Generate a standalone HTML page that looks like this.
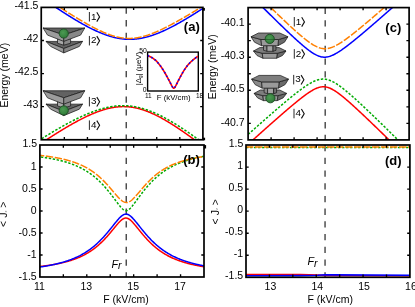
<!DOCTYPE html>
<html><head><meta charset="utf-8"><title>figure</title>
<style>html,body{margin:0;padding:0;background:#fff;}body{width:415px;height:307px;overflow:hidden;position:relative;font-family:"Liberation Sans",sans-serif;}</style>
</head><body>
<svg width="415" height="307" viewBox="0 0 415 307" style="position:absolute;left:0;top:0;will-change:transform;opacity:0.9999" font-family="Liberation Sans, sans-serif" font-size="10.5">
<defs>
<clipPath id="ca"><rect x="41.25" y="7.4" width="161.65" height="132.35"/></clipPath>
<clipPath id="cb"><rect x="39.9" y="145.0" width="164.10" height="132.00"/></clipPath>
<clipPath id="cc"><rect x="248.1" y="7.6" width="161.00" height="132.30"/></clipPath>
<clipPath id="cd"><rect x="246.0" y="145.0" width="163.90" height="132.30"/></clipPath>
<radialGradient id="sg" cx="0.42" cy="0.4" r="0.65"><stop offset="0" stop-color="#4c9a53"/><stop offset="1" stop-color="#2e7a37"/></radialGradient>
</defs>
<rect width="415" height="307" fill="#fff"/>
<path d="M126.25,7.40V13.70 M126.25,20.12V26.42 M126.25,32.84V39.14 M126.25,45.56V51.86 M126.25,58.28V64.58 M126.25,71.00V77.30 M126.25,83.72V90.02 M126.25,96.44V102.74 M126.25,109.16V115.46 M126.25,121.88V128.18 M126.25,134.60V139.75 " stroke="#444" stroke-width="1.4" fill="none"/>
<path d="M38.25,-4.69 L38.75,-4.34 L39.25,-3.98 L39.75,-3.63 L40.25,-3.28 L40.75,-2.93 L41.25,-2.58 L41.75,-2.23 L42.25,-1.88 L42.75,-1.54 L43.25,-1.19 L43.75,-0.84 L44.25,-0.49 L44.75,-0.15 L45.25,0.20 L45.75,0.54 L46.25,0.89 L46.75,1.23 L47.25,1.58 L47.75,1.92 L48.25,2.26 L48.75,2.61 L49.25,2.95 L49.75,3.29 L50.25,3.63 L50.75,3.97 L51.25,4.31 L51.75,4.65 L52.25,4.99 L52.75,5.33 L53.25,5.66 L53.75,6.00 L54.25,6.34 L54.75,6.67 L55.25,7.01 L55.75,7.34 L56.25,7.67 L56.75,8.01 L57.25,8.34 L57.75,8.67 L58.25,9.00 L58.75,9.33 L59.25,9.66 L59.75,9.99 L60.25,10.32 L60.75,10.64 L61.25,10.97 L61.75,11.29 L62.25,11.62 L62.75,11.94 L63.25,12.27 L63.75,12.59 L64.25,12.91 L64.75,13.23 L65.25,13.55 L65.75,13.87 L66.25,14.19 L66.75,14.50 L67.25,14.82 L67.75,15.14 L68.25,15.45 L68.75,15.76 L69.25,16.08 L69.75,16.39 L70.25,16.70 L70.75,17.01 L71.25,17.31 L71.75,17.62 L72.25,17.93 L72.75,18.23 L73.25,18.54 L73.75,18.84 L74.25,19.14 L74.75,19.44 L75.25,19.74 L75.75,20.04 L76.25,20.34 L76.75,20.63 L77.25,20.93 L77.75,21.22 L78.25,21.51 L78.75,21.80 L79.25,22.09 L79.75,22.38 L80.25,22.67 L80.75,22.95 L81.25,23.24 L81.75,23.52 L82.25,23.80 L82.75,24.08 L83.25,24.36 L83.75,24.63 L84.25,24.91 L84.75,25.18 L85.25,25.45 L85.75,25.72 L86.25,25.99 L86.75,26.26 L87.25,26.52 L87.75,26.79 L88.25,27.05 L88.75,27.31 L89.25,27.57 L89.75,27.82 L90.25,28.08 L90.75,28.33 L91.25,28.58 L91.75,28.83 L92.25,29.07 L92.75,29.32 L93.25,29.56 L93.75,29.80 L94.25,30.04 L94.75,30.27 L95.25,30.51 L95.75,30.74 L96.25,30.97 L96.75,31.19 L97.25,31.42 L97.75,31.64 L98.25,31.86 L98.75,32.08 L99.25,32.29 L99.75,32.51 L100.25,32.72 L100.75,32.92 L101.25,33.13 L101.75,33.33 L102.25,33.53 L102.75,33.72 L103.25,33.92 L103.75,34.11 L104.25,34.30 L104.75,34.48 L105.25,34.67 L105.75,34.84 L106.25,35.02 L106.75,35.19 L107.25,35.37 L107.75,35.53 L108.25,35.70 L108.75,35.86 L109.25,36.02 L109.75,36.17 L110.25,36.32 L110.75,36.47 L111.25,36.61 L111.75,36.76 L112.25,36.89 L112.75,37.03 L113.25,37.16 L113.75,37.29 L114.25,37.41 L114.75,37.53 L115.25,37.65 L115.75,37.76 L116.25,37.87 L116.75,37.97 L117.25,38.07 L117.75,38.17 L118.25,38.27 L118.75,38.36 L119.25,38.44 L119.75,38.53 L120.25,38.60 L120.75,38.68 L121.25,38.75 L121.75,38.82 L122.25,38.88 L122.75,38.94 L123.25,38.99 L123.75,39.04 L124.25,39.09 L124.75,39.13 L125.25,39.17 L125.75,39.21 L126.25,39.24 L126.75,39.26 L127.25,39.28 L127.75,39.30 L128.25,39.32 L128.75,39.33 L129.25,39.33 L129.75,39.33 L130.25,39.33 L130.75,39.32 L131.25,39.31 L131.75,39.30 L132.25,39.28 L132.75,39.25 L133.25,39.23 L133.75,39.20 L134.25,39.16 L134.75,39.12 L135.25,39.08 L135.75,39.03 L136.25,38.98 L136.75,38.92 L137.25,38.86 L137.75,38.80 L138.25,38.73 L138.75,38.66 L139.25,38.58 L139.75,38.50 L140.25,38.42 L140.75,38.33 L141.25,38.24 L141.75,38.15 L142.25,38.05 L142.75,37.95 L143.25,37.84 L143.75,37.73 L144.25,37.62 L144.75,37.50 L145.25,37.38 L145.75,37.26 L146.25,37.13 L146.75,37.00 L147.25,36.87 L147.75,36.73 L148.25,36.59 L148.75,36.44 L149.25,36.30 L149.75,36.14 L150.25,35.99 L150.75,35.83 L151.25,35.67 L151.75,35.51 L152.25,35.35 L152.75,35.18 L153.25,35.00 L153.75,34.83 L154.25,34.65 L154.75,34.47 L155.25,34.29 L155.75,34.10 L156.25,33.91 L156.75,33.72 L157.25,33.52 L157.75,33.33 L158.25,33.13 L158.75,32.93 L159.25,32.72 L159.75,32.51 L160.25,32.30 L160.75,32.09 L161.25,31.88 L161.75,31.66 L162.25,31.44 L162.75,31.22 L163.25,31.00 L163.75,30.77 L164.25,30.54 L164.75,30.31 L165.25,30.08 L165.75,29.84 L166.25,29.61 L166.75,29.37 L167.25,29.13 L167.75,28.89 L168.25,28.64 L168.75,28.39 L169.25,28.15 L169.75,27.90 L170.25,27.64 L170.75,27.39 L171.25,27.14 L171.75,26.88 L172.25,26.62 L172.75,26.36 L173.25,26.10 L173.75,25.83 L174.25,25.57 L174.75,25.30 L175.25,25.03 L175.75,24.76 L176.25,24.49 L176.75,24.22 L177.25,23.94 L177.75,23.67 L178.25,23.39 L178.75,23.11 L179.25,22.83 L179.75,22.55 L180.25,22.27 L180.75,21.98 L181.25,21.70 L181.75,21.41 L182.25,21.12 L182.75,20.83 L183.25,20.54 L183.75,20.25 L184.25,19.96 L184.75,19.67 L185.25,19.37 L185.75,19.08 L186.25,18.78 L186.75,18.48 L187.25,18.18 L187.75,17.88 L188.25,17.58 L188.75,17.28 L189.25,16.97 L189.75,16.67 L190.25,16.37 L190.75,16.06 L191.25,15.75 L191.75,15.44 L192.25,15.13 L192.75,14.82 L193.25,14.51 L193.75,14.20 L194.25,13.89 L194.75,13.58 L195.25,13.26 L195.75,12.95 L196.25,12.63 L196.75,12.32 L197.25,12.00 L197.75,11.68 L198.25,11.36 L198.75,11.04 L199.25,10.72 L199.75,10.40 L200.25,10.08 L200.75,9.76 L201.25,9.43 L201.75,9.11 L202.25,8.78 L202.75,8.46 L203.25,8.13 L203.75,7.81 L204.25,7.48 L204.75,7.15 L205.25,6.82 L205.75,6.49" fill="none" stroke="#0000ff" stroke-width="1.5" clip-path="url(#ca)" stroke-linejoin="round"/>
<path d="M38.25,-6.92 L38.75,-6.58 L39.25,-6.25 L39.75,-5.91 L40.25,-5.57 L40.75,-5.24 L41.25,-4.90 L41.75,-4.57 L42.25,-4.23 L42.75,-3.90 L43.25,-3.56 L43.75,-3.23 L44.25,-2.90 L44.75,-2.56 L45.25,-2.23 L45.75,-1.90 L46.25,-1.56 L46.75,-1.23 L47.25,-0.90 L47.75,-0.57 L48.25,-0.24 L48.75,0.09 L49.25,0.43 L49.75,0.76 L50.25,1.09 L50.75,1.42 L51.25,1.75 L51.75,2.07 L52.25,2.40 L52.75,2.73 L53.25,3.06 L53.75,3.39 L54.25,3.72 L54.75,4.04 L55.25,4.37 L55.75,4.70 L56.25,5.02 L56.75,5.35 L57.25,5.67 L57.75,6.00 L58.25,6.32 L58.75,6.65 L59.25,6.97 L59.75,7.29 L60.25,7.62 L60.75,7.94 L61.25,8.26 L61.75,8.58 L62.25,8.90 L62.75,9.22 L63.25,9.54 L63.75,9.86 L64.25,10.18 L64.75,10.50 L65.25,10.82 L65.75,11.14 L66.25,11.45 L66.75,11.77 L67.25,12.08 L67.75,12.40 L68.25,12.71 L68.75,13.03 L69.25,13.34 L69.75,13.65 L70.25,13.97 L70.75,14.28 L71.25,14.59 L71.75,14.90 L72.25,15.21 L72.75,15.52 L73.25,15.82 L73.75,16.13 L74.25,16.44 L74.75,16.74 L75.25,17.05 L75.75,17.35 L76.25,17.65 L76.75,17.96 L77.25,18.26 L77.75,18.56 L78.25,18.86 L78.75,19.16 L79.25,19.46 L79.75,19.75 L80.25,20.05 L80.75,20.34 L81.25,20.64 L81.75,20.93 L82.25,21.22 L82.75,21.52 L83.25,21.81 L83.75,22.09 L84.25,22.38 L84.75,22.67 L85.25,22.95 L85.75,23.24 L86.25,23.52 L86.75,23.80 L87.25,24.08 L87.75,24.36 L88.25,24.64 L88.75,24.92 L89.25,25.19 L89.75,25.46 L90.25,25.74 L90.75,26.01 L91.25,26.28 L91.75,26.54 L92.25,26.81 L92.75,27.07 L93.25,27.34 L93.75,27.60 L94.25,27.86 L94.75,28.11 L95.25,28.37 L95.75,28.62 L96.25,28.87 L96.75,29.12 L97.25,29.37 L97.75,29.62 L98.25,29.86 L98.75,30.10 L99.25,30.34 L99.75,30.58 L100.25,30.81 L100.75,31.04 L101.25,31.27 L101.75,31.50 L102.25,31.72 L102.75,31.95 L103.25,32.16 L103.75,32.38 L104.25,32.60 L104.75,32.81 L105.25,33.02 L105.75,33.22 L106.25,33.42 L106.75,33.62 L107.25,33.82 L107.75,34.01 L108.25,34.20 L108.75,34.39 L109.25,34.57 L109.75,34.75 L110.25,34.93 L110.75,35.10 L111.25,35.27 L111.75,35.44 L112.25,35.60 L112.75,35.76 L113.25,35.91 L113.75,36.06 L114.25,36.20 L114.75,36.35 L115.25,36.48 L115.75,36.62 L116.25,36.75 L116.75,36.87 L117.25,36.99 L117.75,37.11 L118.25,37.22 L118.75,37.33 L119.25,37.43 L119.75,37.53 L120.25,37.62 L120.75,37.71 L121.25,37.79 L121.75,37.87 L122.25,37.94 L122.75,38.01 L123.25,38.07 L123.75,38.13 L124.25,38.18 L124.75,38.23 L125.25,38.28 L125.75,38.31 L126.25,38.35 L126.75,38.37 L127.25,38.40 L127.75,38.41 L128.25,38.42 L128.75,38.43 L129.25,38.43 L129.75,38.43 L130.25,38.42 L130.75,38.41 L131.25,38.39 L131.75,38.36 L132.25,38.33 L132.75,38.30 L133.25,38.26 L133.75,38.21 L134.25,38.16 L134.75,38.11 L135.25,38.05 L135.75,37.98 L136.25,37.91 L136.75,37.84 L137.25,37.76 L137.75,37.68 L138.25,37.59 L138.75,37.50 L139.25,37.40 L139.75,37.30 L140.25,37.19 L140.75,37.08 L141.25,36.97 L141.75,36.85 L142.25,36.72 L142.75,36.60 L143.25,36.46 L143.75,36.33 L144.25,36.19 L144.75,36.05 L145.25,35.90 L145.75,35.75 L146.25,35.60 L146.75,35.44 L147.25,35.28 L147.75,35.11 L148.25,34.95 L148.75,34.77 L149.25,34.60 L149.75,34.42 L150.25,34.24 L150.75,34.06 L151.25,33.87 L151.75,33.68 L152.25,33.49 L152.75,33.29 L153.25,33.10 L153.75,32.90 L154.25,32.69 L154.75,32.49 L155.25,32.28 L155.75,32.07 L156.25,31.85 L156.75,31.64 L157.25,31.42 L157.75,31.20 L158.25,30.98 L158.75,30.75 L159.25,30.53 L159.75,30.30 L160.25,30.07 L160.75,29.84 L161.25,29.60 L161.75,29.37 L162.25,29.13 L162.75,28.89 L163.25,28.65 L163.75,28.40 L164.25,28.16 L164.75,27.91 L165.25,27.66 L165.75,27.41 L166.25,27.16 L166.75,26.91 L167.25,26.66 L167.75,26.40 L168.25,26.14 L168.75,25.88 L169.25,25.62 L169.75,25.36 L170.25,25.10 L170.75,24.84 L171.25,24.57 L171.75,24.30 L172.25,24.04 L172.75,23.77 L173.25,23.50 L173.75,23.23 L174.25,22.96 L174.75,22.68 L175.25,22.41 L175.75,22.14 L176.25,21.86 L176.75,21.58 L177.25,21.30 L177.75,21.03 L178.25,20.75 L178.75,20.47 L179.25,20.18 L179.75,19.90 L180.25,19.62 L180.75,19.33 L181.25,19.05 L181.75,18.76 L182.25,18.48 L182.75,18.19 L183.25,17.90 L183.75,17.61 L184.25,17.32 L184.75,17.03 L185.25,16.74 L185.75,16.45 L186.25,16.16 L186.75,15.87 L187.25,15.57 L187.75,15.28 L188.25,14.99 L188.75,14.69 L189.25,14.39 L189.75,14.10 L190.25,13.80 L190.75,13.50 L191.25,13.21 L191.75,12.91 L192.25,12.61 L192.75,12.31 L193.25,12.01 L193.75,11.71 L194.25,11.41 L194.75,11.10 L195.25,10.80 L195.75,10.50 L196.25,10.20 L196.75,9.89 L197.25,9.59 L197.75,9.29 L198.25,8.98 L198.75,8.68 L199.25,8.37 L199.75,8.06 L200.25,7.76 L200.75,7.45 L201.25,7.14 L201.75,6.84 L202.25,6.53 L202.75,6.22 L203.25,5.91 L203.75,5.60 L204.25,5.29 L204.75,4.98 L205.25,4.67 L205.75,4.36" fill="none" stroke="#ff8000" stroke-width="1.5" stroke-dasharray="7.4 1.6" stroke-dashoffset="0" clip-path="url(#ca)" stroke-linejoin="round"/>
<path d="M38.25,145.23 L38.75,144.90 L39.25,144.56 L39.75,144.23 L40.25,143.90 L40.75,143.56 L41.25,143.23 L41.75,142.90 L42.25,142.57 L42.75,142.24 L43.25,141.91 L43.75,141.58 L44.25,141.25 L44.75,140.92 L45.25,140.59 L45.75,140.26 L46.25,139.94 L46.75,139.61 L47.25,139.29 L47.75,138.96 L48.25,138.64 L48.75,138.31 L49.25,137.99 L49.75,137.67 L50.25,137.34 L50.75,137.02 L51.25,136.70 L51.75,136.38 L52.25,136.06 L52.75,135.74 L53.25,135.43 L53.75,135.11 L54.25,134.79 L54.75,134.48 L55.25,134.16 L55.75,133.85 L56.25,133.53 L56.75,133.22 L57.25,132.91 L57.75,132.60 L58.25,132.29 L58.75,131.98 L59.25,131.67 L59.75,131.36 L60.25,131.05 L60.75,130.75 L61.25,130.44 L61.75,130.14 L62.25,129.83 L62.75,129.53 L63.25,129.23 L63.75,128.93 L64.25,128.63 L64.75,128.33 L65.25,128.03 L65.75,127.73 L66.25,127.44 L66.75,127.14 L67.25,126.85 L67.75,126.56 L68.25,126.26 L68.75,125.97 L69.25,125.68 L69.75,125.40 L70.25,125.11 L70.75,124.82 L71.25,124.54 L71.75,124.25 L72.25,123.97 L72.75,123.69 L73.25,123.41 L73.75,123.13 L74.25,122.85 L74.75,122.58 L75.25,122.30 L75.75,122.03 L76.25,121.76 L76.75,121.49 L77.25,121.22 L77.75,120.95 L78.25,120.68 L78.75,120.42 L79.25,120.16 L79.75,119.89 L80.25,119.63 L80.75,119.38 L81.25,119.12 L81.75,118.86 L82.25,118.61 L82.75,118.36 L83.25,118.11 L83.75,117.86 L84.25,117.61 L84.75,117.37 L85.25,117.13 L85.75,116.88 L86.25,116.65 L86.75,116.41 L87.25,116.17 L87.75,115.94 L88.25,115.71 L88.75,115.48 L89.25,115.25 L89.75,115.03 L90.25,114.80 L90.75,114.58 L91.25,114.36 L91.75,114.15 L92.25,113.93 L92.75,113.72 L93.25,113.51 L93.75,113.30 L94.25,113.10 L94.75,112.90 L95.25,112.70 L95.75,112.50 L96.25,112.31 L96.75,112.11 L97.25,111.92 L97.75,111.74 L98.25,111.55 L98.75,111.37 L99.25,111.19 L99.75,111.02 L100.25,110.84 L100.75,110.67 L101.25,110.51 L101.75,110.34 L102.25,110.18 L102.75,110.02 L103.25,109.87 L103.75,109.72 L104.25,109.57 L104.75,109.42 L105.25,109.28 L105.75,109.14 L106.25,109.00 L106.75,108.87 L107.25,108.74 L107.75,108.62 L108.25,108.50 L108.75,108.38 L109.25,108.26 L109.75,108.15 L110.25,108.04 L110.75,107.94 L111.25,107.84 L111.75,107.74 L112.25,107.65 L112.75,107.56 L113.25,107.47 L113.75,107.39 L114.25,107.31 L114.75,107.24 L115.25,107.17 L115.75,107.10 L116.25,107.04 L116.75,106.98 L117.25,106.93 L117.75,106.88 L118.25,106.84 L118.75,106.79 L119.25,106.76 L119.75,106.72 L120.25,106.70 L120.75,106.67 L121.25,106.65 L121.75,106.63 L122.25,106.62 L122.75,106.61 L123.25,106.61 L123.75,106.61 L124.25,106.62 L124.75,106.63 L125.25,106.64 L125.75,106.66 L126.25,106.68 L126.75,106.71 L127.25,106.74 L127.75,106.77 L128.25,106.81 L128.75,106.86 L129.25,106.91 L129.75,106.96 L130.25,107.02 L130.75,107.08 L131.25,107.14 L131.75,107.21 L132.25,107.29 L132.75,107.37 L133.25,107.45 L133.75,107.54 L134.25,107.63 L134.75,107.72 L135.25,107.82 L135.75,107.92 L136.25,108.03 L136.75,108.14 L137.25,108.26 L137.75,108.38 L138.25,108.50 L138.75,108.63 L139.25,108.76 L139.75,108.90 L140.25,109.04 L140.75,109.18 L141.25,109.33 L141.75,109.48 L142.25,109.64 L142.75,109.80 L143.25,109.96 L143.75,110.12 L144.25,110.29 L144.75,110.47 L145.25,110.65 L145.75,110.83 L146.25,111.01 L146.75,111.20 L147.25,111.39 L147.75,111.58 L148.25,111.78 L148.75,111.98 L149.25,112.18 L149.75,112.39 L150.25,112.60 L150.75,112.82 L151.25,113.03 L151.75,113.25 L152.25,113.48 L152.75,113.70 L153.25,113.93 L153.75,114.16 L154.25,114.40 L154.75,114.64 L155.25,114.88 L155.75,115.12 L156.25,115.36 L156.75,115.61 L157.25,115.86 L157.75,116.12 L158.25,116.37 L158.75,116.63 L159.25,116.89 L159.75,117.16 L160.25,117.42 L160.75,117.69 L161.25,117.96 L161.75,118.24 L162.25,118.51 L162.75,118.79 L163.25,119.07 L163.75,119.35 L164.25,119.64 L164.75,119.92 L165.25,120.21 L165.75,120.50 L166.25,120.80 L166.75,121.09 L167.25,121.39 L167.75,121.69 L168.25,121.99 L168.75,122.29 L169.25,122.59 L169.75,122.90 L170.25,123.21 L170.75,123.52 L171.25,123.83 L171.75,124.14 L172.25,124.46 L172.75,124.77 L173.25,125.09 L173.75,125.41 L174.25,125.73 L174.75,126.06 L175.25,126.38 L175.75,126.71 L176.25,127.03 L176.75,127.36 L177.25,127.69 L177.75,128.02 L178.25,128.36 L178.75,128.69 L179.25,129.03 L179.75,129.36 L180.25,129.70 L180.75,130.04 L181.25,130.38 L181.75,130.73 L182.25,131.07 L182.75,131.41 L183.25,131.76 L183.75,132.11 L184.25,132.46 L184.75,132.81 L185.25,133.16 L185.75,133.51 L186.25,133.86 L186.75,134.21 L187.25,134.57 L187.75,134.92 L188.25,135.28 L188.75,135.64 L189.25,136.00 L189.75,136.36 L190.25,136.72 L190.75,137.08 L191.25,137.44 L191.75,137.81 L192.25,138.17 L192.75,138.54 L193.25,138.90 L193.75,139.27 L194.25,139.64 L194.75,140.01 L195.25,140.38 L195.75,140.75 L196.25,141.12 L196.75,141.49 L197.25,141.87 L197.75,142.24 L198.25,142.61 L198.75,142.99 L199.25,143.37 L199.75,143.74 L200.25,144.12 L200.75,144.50 L201.25,144.88 L201.75,145.26 L202.25,145.64 L202.75,146.02 L203.25,146.40 L203.75,146.78 L204.25,147.16 L204.75,147.55 L205.25,147.93 L205.75,148.32" fill="none" stroke="#ff0000" stroke-width="1.5" clip-path="url(#ca)" stroke-linejoin="round"/>
<path d="M38.25,140.85 L38.75,140.54 L39.25,140.22 L39.75,139.91 L40.25,139.59 L40.75,139.28 L41.25,138.97 L41.75,138.65 L42.25,138.34 L42.75,138.03 L43.25,137.72 L43.75,137.41 L44.25,137.10 L44.75,136.79 L45.25,136.49 L45.75,136.18 L46.25,135.87 L46.75,135.56 L47.25,135.26 L47.75,134.95 L48.25,134.65 L48.75,134.35 L49.25,134.04 L49.75,133.74 L50.25,133.44 L50.75,133.14 L51.25,132.84 L51.75,132.54 L52.25,132.24 L52.75,131.95 L53.25,131.65 L53.75,131.35 L54.25,131.06 L54.75,130.76 L55.25,130.47 L55.75,130.18 L56.25,129.88 L56.75,129.59 L57.25,129.30 L57.75,129.01 L58.25,128.72 L58.75,128.44 L59.25,128.15 L59.75,127.86 L60.25,127.58 L60.75,127.29 L61.25,127.01 L61.75,126.73 L62.25,126.45 L62.75,126.17 L63.25,125.89 L63.75,125.61 L64.25,125.33 L64.75,125.06 L65.25,124.78 L65.75,124.51 L66.25,124.24 L66.75,123.96 L67.25,123.69 L67.75,123.42 L68.25,123.15 L68.75,122.89 L69.25,122.62 L69.75,122.36 L70.25,122.09 L70.75,121.83 L71.25,121.57 L71.75,121.31 L72.25,121.05 L72.75,120.79 L73.25,120.54 L73.75,120.28 L74.25,120.03 L74.75,119.78 L75.25,119.53 L75.75,119.28 L76.25,119.03 L76.75,118.78 L77.25,118.54 L77.75,118.30 L78.25,118.05 L78.75,117.81 L79.25,117.57 L79.75,117.34 L80.25,117.10 L80.75,116.87 L81.25,116.64 L81.75,116.40 L82.25,116.18 L82.75,115.95 L83.25,115.72 L83.75,115.50 L84.25,115.28 L84.75,115.06 L85.25,114.84 L85.75,114.62 L86.25,114.41 L86.75,114.19 L87.25,113.98 L87.75,113.77 L88.25,113.57 L88.75,113.36 L89.25,113.16 L89.75,112.96 L90.25,112.76 L90.75,112.56 L91.25,112.37 L91.75,112.18 L92.25,111.99 L92.75,111.80 L93.25,111.61 L93.75,111.43 L94.25,111.25 L94.75,111.07 L95.25,110.89 L95.75,110.72 L96.25,110.55 L96.75,110.38 L97.25,110.21 L97.75,110.05 L98.25,109.88 L98.75,109.73 L99.25,109.57 L99.75,109.41 L100.25,109.26 L100.75,109.11 L101.25,108.97 L101.75,108.83 L102.25,108.69 L102.75,108.55 L103.25,108.41 L103.75,108.28 L104.25,108.15 L104.75,108.03 L105.25,107.90 L105.75,107.78 L106.25,107.67 L106.75,107.55 L107.25,107.44 L107.75,107.33 L108.25,107.23 L108.75,107.13 L109.25,107.03 L109.75,106.93 L110.25,106.84 L110.75,106.75 L111.25,106.67 L111.75,106.58 L112.25,106.50 L112.75,106.43 L113.25,106.36 L113.75,106.29 L114.25,106.22 L114.75,106.16 L115.25,106.10 L115.75,106.05 L116.25,106.00 L116.75,105.95 L117.25,105.90 L117.75,105.86 L118.25,105.83 L118.75,105.79 L119.25,105.76 L119.75,105.74 L120.25,105.71 L120.75,105.69 L121.25,105.68 L121.75,105.67 L122.25,105.66 L122.75,105.66 L123.25,105.65 L123.75,105.66 L124.25,105.67 L124.75,105.68 L125.25,105.69 L125.75,105.71 L126.25,105.73 L126.75,105.76 L127.25,105.79 L127.75,105.82 L128.25,105.86 L128.75,105.90 L129.25,105.94 L129.75,105.99 L130.25,106.04 L130.75,106.10 L131.25,106.16 L131.75,106.22 L132.25,106.29 L132.75,106.36 L133.25,106.44 L133.75,106.52 L134.25,106.60 L134.75,106.68 L135.25,106.77 L135.75,106.87 L136.25,106.97 L136.75,107.07 L137.25,107.17 L137.75,107.28 L138.25,107.39 L138.75,107.51 L139.25,107.62 L139.75,107.75 L140.25,107.87 L140.75,108.00 L141.25,108.13 L141.75,108.27 L142.25,108.41 L142.75,108.55 L143.25,108.70 L143.75,108.85 L144.25,109.00 L144.75,109.16 L145.25,109.32 L145.75,109.48 L146.25,109.65 L146.75,109.82 L147.25,109.99 L147.75,110.17 L148.25,110.35 L148.75,110.53 L149.25,110.72 L149.75,110.91 L150.25,111.10 L150.75,111.29 L151.25,111.49 L151.75,111.69 L152.25,111.89 L152.75,112.10 L153.25,112.31 L153.75,112.52 L154.25,112.74 L154.75,112.95 L155.25,113.17 L155.75,113.40 L156.25,113.62 L156.75,113.85 L157.25,114.08 L157.75,114.32 L158.25,114.55 L158.75,114.79 L159.25,115.03 L159.75,115.28 L160.25,115.52 L160.75,115.77 L161.25,116.02 L161.75,116.27 L162.25,116.53 L162.75,116.79 L163.25,117.05 L163.75,117.31 L164.25,117.58 L164.75,117.84 L165.25,118.11 L165.75,118.38 L166.25,118.66 L166.75,118.93 L167.25,119.21 L167.75,119.49 L168.25,119.77 L168.75,120.05 L169.25,120.34 L169.75,120.63 L170.25,120.91 L170.75,121.21 L171.25,121.50 L171.75,121.79 L172.25,122.09 L172.75,122.39 L173.25,122.69 L173.75,122.99 L174.25,123.29 L174.75,123.60 L175.25,123.90 L175.75,124.21 L176.25,124.52 L176.75,124.83 L177.25,125.15 L177.75,125.46 L178.25,125.78 L178.75,126.10 L179.25,126.42 L179.75,126.74 L180.25,127.06 L180.75,127.38 L181.25,127.71 L181.75,128.03 L182.25,128.36 L182.75,128.69 L183.25,129.02 L183.75,129.35 L184.25,129.68 L184.75,130.02 L185.25,130.35 L185.75,130.69 L186.25,131.03 L186.75,131.37 L187.25,131.71 L187.75,132.05 L188.25,132.39 L188.75,132.74 L189.25,133.08 L189.75,133.43 L190.25,133.78 L190.75,134.12 L191.25,134.47 L191.75,134.82 L192.25,135.18 L192.75,135.53 L193.25,135.88 L193.75,136.24 L194.25,136.59 L194.75,136.95 L195.25,137.31 L195.75,137.66 L196.25,138.02 L196.75,138.38 L197.25,138.75 L197.75,139.11 L198.25,139.47 L198.75,139.83 L199.25,140.20 L199.75,140.56 L200.25,140.93 L200.75,141.30 L201.25,141.67 L201.75,142.03 L202.25,142.40 L202.75,142.78 L203.25,143.15 L203.75,143.52 L204.25,143.89 L204.75,144.26 L205.25,144.64 L205.75,145.01" fill="none" stroke="#00aa00" stroke-width="1.5" stroke-dasharray="2.4 1.6" stroke-dashoffset="0" clip-path="url(#ca)" stroke-linejoin="round"/>
<g stroke="#000" stroke-width="1.35" fill="none"><path d="M64.34,139.75v-2.7 M64.34,7.40v2.7" /><path d="M87.44,139.75v-2.7 M87.44,7.40v2.7" /><path d="M110.53,139.75v-2.7 M110.53,7.40v2.7" /><path d="M133.62,139.75v-2.7 M133.62,7.40v2.7" /><path d="M156.71,139.75v-2.7 M156.71,7.40v2.7" /><path d="M179.81,139.75v-2.7 M179.81,7.40v2.7" /><path d="M41.25,40.49h2.7 M202.90,40.49h-2.7" /><path d="M41.25,73.58h2.7 M202.90,73.58h-2.7" /><path d="M41.25,106.66h2.7 M202.90,106.66h-2.7" /></g>
<rect x="41.25" y="7.4" width="161.65" height="132.35" fill="none" stroke="#000" stroke-width="1.7"/>
<path d="M126.25,145.00V151.30 M126.25,157.72V164.02 M126.25,170.44V176.74 M126.25,183.16V189.46 M126.25,195.88V202.18 M126.25,208.60V214.90 M126.25,221.32V227.62 M126.25,234.04V240.34 M126.25,246.76V253.06 M126.25,259.48V265.78 M126.25,272.20V277.00 " stroke="#444" stroke-width="1.4" fill="none"/>
<path d="M36.90,266.80 L37.40,266.75 L37.90,266.69 L38.40,266.64 L38.90,266.59 L39.40,266.53 L39.90,266.47 L40.40,266.42 L40.90,266.36 L41.40,266.30 L41.90,266.24 L42.40,266.18 L42.90,266.12 L43.40,266.06 L43.90,265.99 L44.40,265.93 L44.90,265.86 L45.40,265.80 L45.90,265.73 L46.40,265.66 L46.90,265.59 L47.40,265.52 L47.90,265.45 L48.40,265.37 L48.90,265.30 L49.40,265.22 L49.90,265.15 L50.40,265.07 L50.90,264.99 L51.40,264.91 L51.90,264.83 L52.40,264.74 L52.90,264.66 L53.40,264.57 L53.90,264.49 L54.40,264.40 L54.90,264.31 L55.40,264.21 L55.90,264.12 L56.40,264.03 L56.90,263.93 L57.40,263.83 L57.90,263.73 L58.40,263.63 L58.90,263.52 L59.40,263.42 L59.90,263.31 L60.40,263.20 L60.90,263.09 L61.40,262.98 L61.90,262.86 L62.40,262.75 L62.90,262.63 L63.40,262.51 L63.90,262.38 L64.40,262.26 L64.90,262.13 L65.40,262.00 L65.90,261.87 L66.40,261.73 L66.90,261.60 L67.40,261.46 L67.90,261.31 L68.40,261.17 L68.90,261.02 L69.40,260.87 L69.90,260.72 L70.40,260.56 L70.90,260.41 L71.40,260.25 L71.90,260.08 L72.40,259.91 L72.90,259.74 L73.40,259.57 L73.90,259.39 L74.40,259.21 L74.90,259.03 L75.40,258.84 L75.90,258.65 L76.40,258.46 L76.90,258.26 L77.40,258.06 L77.90,257.86 L78.40,257.65 L78.90,257.44 L79.40,257.22 L79.90,257.00 L80.40,256.77 L80.90,256.54 L81.40,256.31 L81.90,256.07 L82.40,255.83 L82.90,255.58 L83.40,255.33 L83.90,255.08 L84.40,254.81 L84.90,254.55 L85.40,254.28 L85.90,254.00 L86.40,253.72 L86.90,253.43 L87.40,253.14 L87.90,252.84 L88.40,252.54 L88.90,252.23 L89.40,251.92 L89.90,251.60 L90.40,251.27 L90.90,250.94 L91.40,250.60 L91.90,250.25 L92.40,249.90 L92.90,249.54 L93.40,249.18 L93.90,248.81 L94.40,248.43 L94.90,248.05 L95.40,247.66 L95.90,247.26 L96.40,246.85 L96.90,246.44 L97.40,246.02 L97.90,245.60 L98.40,245.16 L98.90,244.72 L99.40,244.28 L99.90,243.82 L100.40,243.36 L100.90,242.89 L101.40,242.41 L101.90,241.93 L102.40,241.44 L102.90,240.94 L103.40,240.43 L103.90,239.92 L104.40,239.40 L104.90,238.87 L105.40,238.33 L105.90,237.79 L106.40,237.25 L106.90,236.69 L107.40,236.13 L107.90,235.56 L108.40,234.99 L108.90,234.41 L109.40,233.83 L109.90,233.24 L110.40,232.65 L110.90,232.05 L111.40,231.45 L111.90,230.84 L112.40,230.23 L112.90,229.63 L113.40,229.02 L113.90,228.41 L114.40,227.79 L114.90,227.19 L115.40,226.58 L115.90,225.98 L116.40,225.38 L116.90,224.79 L117.40,224.21 L117.90,223.63 L118.40,223.07 L118.90,222.52 L119.40,221.99 L119.90,221.48 L120.40,220.99 L120.90,220.53 L121.40,220.09 L121.90,219.69 L122.40,219.32 L122.90,218.99 L123.40,218.70 L123.90,218.46 L124.40,218.27 L124.90,218.14 L125.40,218.05 L125.90,218.03 L126.40,218.05 L126.90,218.14 L127.40,218.28 L127.90,218.47 L128.40,218.71 L128.90,219.00 L129.40,219.33 L129.90,219.71 L130.40,220.11 L130.90,220.56 L131.40,221.03 L131.90,221.52 L132.40,222.04 L132.90,222.58 L133.40,223.13 L133.90,223.70 L134.40,224.28 L134.90,224.87 L135.40,225.47 L135.90,226.07 L136.40,226.68 L136.90,227.30 L137.40,227.91 L137.90,228.53 L138.40,229.15 L138.90,229.77 L139.40,230.39 L139.90,231.00 L140.40,231.62 L140.90,232.23 L141.40,232.83 L141.90,233.43 L142.40,234.03 L142.90,234.63 L143.40,235.21 L143.90,235.80 L144.40,236.37 L144.90,236.94 L145.40,237.51 L145.90,238.06 L146.40,238.61 L146.90,239.16 L147.40,239.69 L147.90,240.22 L148.40,240.75 L148.90,241.26 L149.40,241.77 L149.90,242.27 L150.40,242.76 L150.90,243.25 L151.40,243.73 L151.90,244.20 L152.40,244.67 L152.90,245.12 L153.40,245.57 L153.90,246.01 L154.40,246.45 L154.90,246.88 L155.40,247.30 L155.90,247.71 L156.40,248.12 L156.90,248.52 L157.40,248.91 L157.90,249.30 L158.40,249.68 L158.90,250.05 L159.40,250.42 L159.90,250.78 L160.40,251.13 L160.90,251.48 L161.40,251.82 L161.90,252.16 L162.40,252.49 L162.90,252.81 L163.40,253.13 L163.90,253.44 L164.40,253.75 L164.90,254.05 L165.40,254.35 L165.90,254.64 L166.40,254.92 L166.90,255.20 L167.40,255.48 L167.90,255.75 L168.40,256.01 L168.90,256.28 L169.40,256.53 L169.90,256.78 L170.40,257.03 L170.90,257.27 L171.40,257.51 L171.90,257.74 L172.40,257.97 L172.90,258.20 L173.40,258.42 L173.90,258.64 L174.40,258.85 L174.90,259.06 L175.40,259.27 L175.90,259.47 L176.40,259.67 L176.90,259.86 L177.40,260.06 L177.90,260.24 L178.40,260.43 L178.90,260.61 L179.40,260.79 L179.90,260.97 L180.40,261.14 L180.90,261.31 L181.40,261.48 L181.90,261.64 L182.40,261.80 L182.90,261.96 L183.40,262.12 L183.90,262.27 L184.40,262.42 L184.90,262.57 L185.40,262.72 L185.90,262.86 L186.40,263.00 L186.90,263.14 L187.40,263.27 L187.90,263.41 L188.40,263.54 L188.90,263.67 L189.40,263.80 L189.90,263.92 L190.40,264.05 L190.90,264.17 L191.40,264.29 L191.90,264.41 L192.40,264.52 L192.90,264.64 L193.40,264.75 L193.90,264.86 L194.40,264.97 L194.90,265.08 L195.40,265.18 L195.90,265.28 L196.40,265.39 L196.90,265.49 L197.40,265.59 L197.90,265.68 L198.40,265.78 L198.90,265.88 L199.40,265.97 L199.90,266.06 L200.40,266.15 L200.90,266.24 L201.40,266.33 L201.90,266.41 L202.40,266.50 L202.90,266.58 L203.40,266.67 L203.90,266.75 L204.40,266.83 L204.90,266.91 L205.40,266.99 L205.90,267.06 L206.40,267.14 L206.90,267.22" fill="none" stroke="#ff0000" stroke-width="1.5" clip-path="url(#cb)" stroke-linejoin="round"/>
<path d="M36.90,267.45 L37.40,267.38 L37.90,267.31 L38.40,267.24 L38.90,267.17 L39.40,267.10 L39.90,267.03 L40.40,266.96 L40.90,266.88 L41.40,266.81 L41.90,266.73 L42.40,266.65 L42.90,266.57 L43.40,266.50 L43.90,266.41 L44.40,266.33 L44.90,266.25 L45.40,266.17 L45.90,266.08 L46.40,265.99 L46.90,265.90 L47.40,265.82 L47.90,265.72 L48.40,265.63 L48.90,265.54 L49.40,265.44 L49.90,265.35 L50.40,265.25 L50.90,265.15 L51.40,265.05 L51.90,264.95 L52.40,264.85 L52.90,264.74 L53.40,264.63 L53.90,264.52 L54.40,264.41 L54.90,264.30 L55.40,264.19 L55.90,264.07 L56.40,263.96 L56.90,263.84 L57.40,263.71 L57.90,263.59 L58.40,263.47 L58.90,263.34 L59.40,263.21 L59.90,263.08 L60.40,262.95 L60.90,262.81 L61.40,262.67 L61.90,262.53 L62.40,262.39 L62.90,262.25 L63.40,262.10 L63.90,261.95 L64.40,261.80 L64.90,261.65 L65.40,261.49 L65.90,261.33 L66.40,261.17 L66.90,261.00 L67.40,260.84 L67.90,260.67 L68.40,260.49 L68.90,260.32 L69.40,260.14 L69.90,259.96 L70.40,259.77 L70.90,259.58 L71.40,259.39 L71.90,259.20 L72.40,259.00 L72.90,258.80 L73.40,258.59 L73.90,258.38 L74.40,258.17 L74.90,257.96 L75.40,257.74 L75.90,257.51 L76.40,257.29 L76.90,257.06 L77.40,256.82 L77.90,256.58 L78.40,256.34 L78.90,256.09 L79.40,255.84 L79.90,255.59 L80.40,255.32 L80.90,255.06 L81.40,254.79 L81.90,254.52 L82.40,254.24 L82.90,253.95 L83.40,253.66 L83.90,253.37 L84.40,253.07 L84.90,252.77 L85.40,252.46 L85.90,252.14 L86.40,251.82 L86.90,251.50 L87.40,251.17 L87.90,250.83 L88.40,250.49 L88.90,250.14 L89.40,249.78 L89.90,249.42 L90.40,249.06 L90.90,248.68 L91.40,248.30 L91.90,247.92 L92.40,247.53 L92.90,247.13 L93.40,246.72 L93.90,246.31 L94.40,245.90 L94.90,245.47 L95.40,245.04 L95.90,244.60 L96.40,244.16 L96.90,243.70 L97.40,243.25 L97.90,242.78 L98.40,242.31 L98.90,241.83 L99.40,241.34 L99.90,240.85 L100.40,240.34 L100.90,239.84 L101.40,239.32 L101.90,238.80 L102.40,238.27 L102.90,237.74 L103.40,237.19 L103.90,236.64 L104.40,236.09 L104.90,235.53 L105.40,234.96 L105.90,234.38 L106.40,233.80 L106.90,233.22 L107.40,232.63 L107.90,232.03 L108.40,231.43 L108.90,230.82 L109.40,230.21 L109.90,229.59 L110.40,228.98 L110.90,228.35 L111.40,227.73 L111.90,227.10 L112.40,226.48 L112.90,225.85 L113.40,225.22 L113.90,224.59 L114.40,223.97 L114.90,223.34 L115.40,222.72 L115.90,222.11 L116.40,221.50 L116.90,220.90 L117.40,220.31 L117.90,219.73 L118.40,219.17 L118.90,218.62 L119.40,218.09 L119.90,217.57 L120.40,217.08 L120.90,216.62 L121.40,216.19 L121.90,215.78 L122.40,215.42 L122.90,215.09 L123.40,214.80 L123.90,214.56 L124.40,214.37 L124.90,214.22 L125.40,214.13 L125.90,214.09 L126.40,214.11 L126.90,214.18 L127.40,214.30 L127.90,214.47 L128.40,214.69 L128.90,214.96 L129.40,215.27 L129.90,215.62 L130.40,216.01 L130.90,216.43 L131.40,216.89 L131.90,217.36 L132.40,217.87 L132.90,218.39 L133.40,218.94 L133.90,219.50 L134.40,220.07 L134.90,220.66 L135.40,221.25 L135.90,221.86 L136.40,222.47 L136.90,223.09 L137.40,223.71 L137.90,224.33 L138.40,224.96 L138.90,225.59 L139.40,226.22 L139.90,226.85 L140.40,227.48 L140.90,228.10 L141.40,228.73 L141.90,229.35 L142.40,229.97 L142.90,230.58 L143.40,231.19 L143.90,231.79 L144.40,232.39 L144.90,232.99 L145.40,233.58 L145.90,234.16 L146.40,234.74 L146.90,235.31 L147.40,235.88 L147.90,236.44 L148.40,236.99 L148.90,237.54 L149.40,238.08 L149.90,238.61 L150.40,239.13 L150.90,239.65 L151.40,240.17 L151.90,240.67 L152.40,241.17 L152.90,241.66 L153.40,242.14 L153.90,242.62 L154.40,243.09 L154.90,243.55 L155.40,244.01 L155.90,244.46 L156.40,244.90 L156.90,245.34 L157.40,245.76 L157.90,246.19 L158.40,246.60 L158.90,247.01 L159.40,247.41 L159.90,247.81 L160.40,248.20 L160.90,248.58 L161.40,248.96 L161.90,249.33 L162.40,249.69 L162.90,250.05 L163.40,250.40 L163.90,250.75 L164.40,251.09 L164.90,251.42 L165.40,251.75 L165.90,252.07 L166.40,252.39 L166.90,252.70 L167.40,253.01 L167.90,253.31 L168.40,253.61 L168.90,253.90 L169.40,254.19 L169.90,254.47 L170.40,254.75 L170.90,255.02 L171.40,255.29 L171.90,255.55 L172.40,255.81 L172.90,256.07 L173.40,256.32 L173.90,256.56 L174.40,256.80 L174.90,257.04 L175.40,257.27 L175.90,257.50 L176.40,257.73 L176.90,257.95 L177.40,258.17 L177.90,258.38 L178.40,258.60 L178.90,258.80 L179.40,259.01 L179.90,259.21 L180.40,259.40 L180.90,259.60 L181.40,259.79 L181.90,259.97 L182.40,260.16 L182.90,260.34 L183.40,260.52 L183.90,260.69 L184.40,260.87 L184.90,261.04 L185.40,261.20 L185.90,261.37 L186.40,261.53 L186.90,261.69 L187.40,261.84 L187.90,262.00 L188.40,262.15 L188.90,262.30 L189.40,262.44 L189.90,262.59 L190.40,262.73 L190.90,262.87 L191.40,263.00 L191.90,263.14 L192.40,263.27 L192.90,263.40 L193.40,263.53 L193.90,263.66 L194.40,263.78 L194.90,263.91 L195.40,264.03 L195.90,264.15 L196.40,264.26 L196.90,264.38 L197.40,264.49 L197.90,264.60 L198.40,264.72 L198.90,264.82 L199.40,264.93 L199.90,265.04 L200.40,265.14 L200.90,265.24 L201.40,265.34 L201.90,265.44 L202.40,265.54 L202.90,265.64 L203.40,265.73 L203.90,265.82 L204.40,265.92 L204.90,266.01 L205.40,266.10 L205.90,266.19 L206.40,266.27 L206.90,266.36" fill="none" stroke="#0000ff" stroke-width="1.5" clip-path="url(#cb)" stroke-linejoin="round"/>
<path d="M36.90,156.55 L37.40,156.60 L37.90,156.66 L38.40,156.72 L38.90,156.79 L39.40,156.85 L39.90,156.91 L40.40,156.98 L40.90,157.04 L41.40,157.11 L41.90,157.17 L42.40,157.24 L42.90,157.31 L43.40,157.38 L43.90,157.45 L44.40,157.53 L44.90,157.60 L45.40,157.68 L45.90,157.75 L46.40,157.83 L46.90,157.91 L47.40,157.99 L47.90,158.07 L48.40,158.15 L48.90,158.23 L49.40,158.32 L49.90,158.41 L50.40,158.49 L50.90,158.58 L51.40,158.67 L51.90,158.77 L52.40,158.86 L52.90,158.96 L53.40,159.05 L53.90,159.15 L54.40,159.25 L54.90,159.35 L55.40,159.46 L55.90,159.56 L56.40,159.67 L56.90,159.78 L57.40,159.89 L57.90,160.00 L58.40,160.12 L58.90,160.23 L59.40,160.35 L59.90,160.47 L60.40,160.59 L60.90,160.72 L61.40,160.84 L61.90,160.97 L62.40,161.10 L62.90,161.24 L63.40,161.37 L63.90,161.51 L64.40,161.65 L64.90,161.79 L65.40,161.94 L65.90,162.08 L66.40,162.23 L66.90,162.39 L67.40,162.54 L67.90,162.70 L68.40,162.86 L68.90,163.03 L69.40,163.19 L69.90,163.36 L70.40,163.54 L70.90,163.71 L71.40,163.89 L71.90,164.07 L72.40,164.26 L72.90,164.45 L73.40,164.64 L73.90,164.83 L74.40,165.03 L74.90,165.24 L75.40,165.44 L75.90,165.65 L76.40,165.87 L76.90,166.08 L77.40,166.31 L77.90,166.53 L78.40,166.76 L78.90,167.00 L79.40,167.23 L79.90,167.48 L80.40,167.72 L80.90,167.98 L81.40,168.23 L81.90,168.49 L82.40,168.76 L82.90,169.03 L83.40,169.30 L83.90,169.58 L84.40,169.87 L84.90,170.16 L85.40,170.46 L85.90,170.76 L86.40,171.06 L86.90,171.38 L87.40,171.69 L87.90,172.02 L88.40,172.35 L88.90,172.68 L89.40,173.02 L89.90,173.37 L90.40,173.72 L90.90,174.08 L91.40,174.45 L91.90,174.82 L92.40,175.20 L92.90,175.59 L93.40,175.98 L93.90,176.38 L94.40,176.78 L94.90,177.20 L95.40,177.62 L95.90,178.04 L96.40,178.48 L96.90,178.92 L97.40,179.37 L97.90,179.83 L98.40,180.29 L98.90,180.76 L99.40,181.24 L99.90,181.72 L100.40,182.22 L100.90,182.72 L101.40,183.23 L101.90,183.74 L102.40,184.27 L102.90,184.80 L103.40,185.34 L103.90,185.89 L104.40,186.44 L104.90,187.00 L105.40,187.57 L105.90,188.15 L106.40,188.73 L106.90,189.32 L107.40,189.92 L107.90,190.52 L108.40,191.14 L108.90,191.75 L109.40,192.38 L109.90,193.01 L110.40,193.64 L110.90,194.28 L111.40,194.93 L111.90,195.58 L112.40,196.24 L112.90,196.90 L113.40,197.56 L113.90,198.22 L114.40,198.89 L114.90,199.56 L115.40,200.23 L115.90,200.90 L116.40,201.57 L116.90,202.23 L117.40,202.89 L117.90,203.55 L118.40,204.20 L118.90,204.84 L119.40,205.47 L119.90,206.08 L120.40,206.67 L120.90,207.25 L121.40,207.80 L121.90,208.32 L122.40,208.81 L122.90,209.25 L123.40,209.65 L123.90,209.99 L124.40,210.27 L124.90,210.49 L125.40,210.63 L125.90,210.70 L126.40,210.69 L126.90,210.60 L127.40,210.44 L127.90,210.20 L128.40,209.90 L128.90,209.54 L129.40,209.12 L129.90,208.66 L130.40,208.16 L130.90,207.62 L131.40,207.06 L131.90,206.47 L132.40,205.86 L132.90,205.23 L133.40,204.59 L133.90,203.94 L134.40,203.28 L134.90,202.61 L135.40,201.94 L135.90,201.26 L136.40,200.58 L136.90,199.90 L137.40,199.22 L137.90,198.54 L138.40,197.86 L138.90,197.18 L139.40,196.50 L139.90,195.83 L140.40,195.17 L140.90,194.50 L141.40,193.85 L141.90,193.19 L142.40,192.55 L142.90,191.90 L143.40,191.27 L143.90,190.64 L144.40,190.02 L144.90,189.40 L145.40,188.79 L145.90,188.19 L146.40,187.60 L146.90,187.01 L147.40,186.43 L147.90,185.85 L148.40,185.29 L148.90,184.73 L149.40,184.18 L149.90,183.64 L150.40,183.10 L150.90,182.58 L151.40,182.06 L151.90,181.54 L152.40,181.04 L152.90,180.54 L153.40,180.05 L153.90,179.57 L154.40,179.10 L154.90,178.63 L155.40,178.17 L155.90,177.72 L156.40,177.27 L156.90,176.83 L157.40,176.40 L157.90,175.98 L158.40,175.56 L158.90,175.15 L159.40,174.75 L159.90,174.35 L160.40,173.96 L160.90,173.57 L161.40,173.20 L161.90,172.83 L162.40,172.46 L162.90,172.10 L163.40,171.75 L163.90,171.40 L164.40,171.06 L164.90,170.73 L165.40,170.40 L165.90,170.07 L166.40,169.76 L166.90,169.44 L167.40,169.14 L167.90,168.83 L168.40,168.54 L168.90,168.25 L169.40,167.96 L169.90,167.68 L170.40,167.40 L170.90,167.13 L171.40,166.86 L171.90,166.60 L172.40,166.34 L172.90,166.09 L173.40,165.84 L173.90,165.59 L174.40,165.35 L174.90,165.11 L175.40,164.88 L175.90,164.65 L176.40,164.42 L176.90,164.20 L177.40,163.98 L177.90,163.77 L178.40,163.56 L178.90,163.35 L179.40,163.15 L179.90,162.95 L180.40,162.75 L180.90,162.56 L181.40,162.37 L181.90,162.18 L182.40,161.99 L182.90,161.81 L183.40,161.63 L183.90,161.46 L184.40,161.29 L184.90,161.12 L185.40,160.95 L185.90,160.78 L186.40,160.62 L186.90,160.46 L187.40,160.31 L187.90,160.15 L188.40,160.00 L188.90,159.85 L189.40,159.70 L189.90,159.56 L190.40,159.41 L190.90,159.27 L191.40,159.14 L191.90,159.00 L192.40,158.87 L192.90,158.73 L193.40,158.60 L193.90,158.48 L194.40,158.35 L194.90,158.23 L195.40,158.10 L195.90,157.98 L196.40,157.86 L196.90,157.75 L197.40,157.63 L197.90,157.52 L198.40,157.41 L198.90,157.30 L199.40,157.19 L199.90,157.08 L200.40,156.97 L200.90,156.87 L201.40,156.77 L201.90,156.67 L202.40,156.57 L202.90,156.47 L203.40,156.37 L203.90,156.28 L204.40,156.18 L204.90,156.09 L205.40,156.00 L205.90,155.91 L206.40,155.82 L206.90,155.73" fill="none" stroke="#00aa00" stroke-width="1.5" stroke-dasharray="2.4 1.6" stroke-dashoffset="0" clip-path="url(#cb)" stroke-linejoin="round"/>
<path d="M36.90,155.01 L37.40,155.06 L37.90,155.11 L38.40,155.17 L38.90,155.22 L39.40,155.28 L39.90,155.33 L40.40,155.39 L40.90,155.45 L41.40,155.50 L41.90,155.56 L42.40,155.62 L42.90,155.69 L43.40,155.75 L43.90,155.81 L44.40,155.87 L44.90,155.94 L45.40,156.00 L45.90,156.07 L46.40,156.14 L46.90,156.21 L47.40,156.28 L47.90,156.35 L48.40,156.42 L48.90,156.49 L49.40,156.57 L49.90,156.64 L50.40,156.72 L50.90,156.80 L51.40,156.88 L51.90,156.96 L52.40,157.04 L52.90,157.12 L53.40,157.20 L53.90,157.29 L54.40,157.38 L54.90,157.47 L55.40,157.56 L55.90,157.65 L56.40,157.74 L56.90,157.83 L57.40,157.93 L57.90,158.03 L58.40,158.13 L58.90,158.23 L59.40,158.33 L59.90,158.43 L60.40,158.54 L60.90,158.65 L61.40,158.76 L61.90,158.87 L62.40,158.98 L62.90,159.10 L63.40,159.21 L63.90,159.33 L64.40,159.45 L64.90,159.58 L65.40,159.70 L65.90,159.83 L66.40,159.96 L66.90,160.09 L67.40,160.23 L67.90,160.36 L68.40,160.50 L68.90,160.65 L69.40,160.79 L69.90,160.94 L70.40,161.09 L70.90,161.24 L71.40,161.40 L71.90,161.55 L72.40,161.72 L72.90,161.88 L73.40,162.05 L73.90,162.22 L74.40,162.39 L74.90,162.57 L75.40,162.75 L75.90,162.93 L76.40,163.12 L76.90,163.31 L77.40,163.50 L77.90,163.70 L78.40,163.90 L78.90,164.11 L79.40,164.31 L79.90,164.53 L80.40,164.74 L80.90,164.96 L81.40,165.19 L81.90,165.42 L82.40,165.65 L82.90,165.89 L83.40,166.13 L83.90,166.38 L84.40,166.63 L84.90,166.89 L85.40,167.15 L85.90,167.42 L86.40,167.69 L86.90,167.97 L87.40,168.25 L87.90,168.54 L88.40,168.83 L88.90,169.13 L89.40,169.44 L89.90,169.75 L90.40,170.06 L90.90,170.38 L91.40,170.71 L91.90,171.05 L92.40,171.39 L92.90,171.73 L93.40,172.09 L93.90,172.45 L94.40,172.81 L94.90,173.19 L95.40,173.57 L95.90,173.95 L96.40,174.35 L96.90,174.75 L97.40,175.16 L97.90,175.57 L98.40,175.99 L98.90,176.42 L99.40,176.86 L99.90,177.30 L100.40,177.75 L100.90,178.21 L101.40,178.68 L101.90,179.15 L102.40,179.63 L102.90,180.12 L103.40,180.61 L103.90,181.12 L104.40,181.63 L104.90,182.14 L105.40,182.66 L105.90,183.19 L106.40,183.73 L106.90,184.27 L107.40,184.82 L107.90,185.37 L108.40,185.93 L108.90,186.50 L109.40,187.07 L109.90,187.64 L110.40,188.22 L110.90,188.81 L111.40,189.39 L111.90,189.98 L112.40,190.57 L112.90,191.16 L113.40,191.75 L113.90,192.34 L114.40,192.93 L114.90,193.52 L115.40,194.11 L115.90,194.69 L116.40,195.26 L116.90,195.83 L117.40,196.38 L117.90,196.93 L118.40,197.47 L118.90,197.99 L119.40,198.49 L119.90,198.98 L120.40,199.44 L120.90,199.88 L121.40,200.30 L121.90,200.68 L122.40,201.04 L122.90,201.36 L123.40,201.65 L123.90,201.89 L124.40,202.10 L124.90,202.26 L125.40,202.38 L125.90,202.46 L126.40,202.48 L126.90,202.46 L127.40,202.40 L127.90,202.29 L128.40,202.13 L128.90,201.93 L129.40,201.69 L129.90,201.41 L130.40,201.10 L130.90,200.75 L131.40,200.37 L131.90,199.96 L132.40,199.52 L132.90,199.06 L133.40,198.58 L133.90,198.08 L134.40,197.56 L134.90,197.03 L135.40,196.48 L135.90,195.93 L136.40,195.36 L136.90,194.79 L137.40,194.21 L137.90,193.63 L138.40,193.04 L138.90,192.45 L139.40,191.86 L139.90,191.27 L140.40,190.67 L140.90,190.08 L141.40,189.50 L141.90,188.91 L142.40,188.33 L142.90,187.75 L143.40,187.17 L143.90,186.60 L144.40,186.03 L144.90,185.47 L145.40,184.92 L145.90,184.37 L146.40,183.82 L146.90,183.29 L147.40,182.76 L147.90,182.23 L148.40,181.72 L148.90,181.21 L149.40,180.70 L149.90,180.21 L150.40,179.72 L150.90,179.24 L151.40,178.76 L151.90,178.29 L152.40,177.84 L152.90,177.38 L153.40,176.94 L153.90,176.50 L154.40,176.07 L154.90,175.65 L155.40,175.23 L155.90,174.82 L156.40,174.42 L156.90,174.02 L157.40,173.64 L157.90,173.25 L158.40,172.88 L158.90,172.51 L159.40,172.15 L159.90,171.80 L160.40,171.45 L160.90,171.11 L161.40,170.77 L161.90,170.44 L162.40,170.12 L162.90,169.80 L163.40,169.49 L163.90,169.18 L164.40,168.88 L164.90,168.59 L165.40,168.30 L165.90,168.02 L166.40,167.74 L166.90,167.47 L167.40,167.20 L167.90,166.94 L168.40,166.68 L168.90,166.43 L169.40,166.18 L169.90,165.93 L170.40,165.69 L170.90,165.46 L171.40,165.23 L171.90,165.00 L172.40,164.78 L172.90,164.56 L173.40,164.35 L173.90,164.14 L174.40,163.94 L174.90,163.73 L175.40,163.54 L175.90,163.34 L176.40,163.15 L176.90,162.96 L177.40,162.78 L177.90,162.60 L178.40,162.42 L178.90,162.25 L179.40,162.08 L179.90,161.91 L180.40,161.74 L180.90,161.58 L181.40,161.42 L181.90,161.27 L182.40,161.12 L182.90,160.96 L183.40,160.82 L183.90,160.67 L184.40,160.53 L184.90,160.39 L185.40,160.25 L185.90,160.12 L186.40,159.98 L186.90,159.85 L187.40,159.73 L187.90,159.60 L188.40,159.48 L188.90,159.35 L189.40,159.23 L189.90,159.12 L190.40,159.00 L190.90,158.89 L191.40,158.78 L191.90,158.67 L192.40,158.56 L192.90,158.45 L193.40,158.35 L193.90,158.24 L194.40,158.14 L194.90,158.04 L195.40,157.95 L195.90,157.85 L196.40,157.76 L196.90,157.66 L197.40,157.57 L197.90,157.48 L198.40,157.39 L198.90,157.31 L199.40,157.22 L199.90,157.14 L200.40,157.05 L200.90,156.97 L201.40,156.89 L201.90,156.81 L202.40,156.73 L202.90,156.66 L203.40,156.58 L203.90,156.51 L204.40,156.43 L204.90,156.36 L205.40,156.29 L205.90,156.22 L206.40,156.15 L206.90,156.08" fill="none" stroke="#ff8000" stroke-width="1.5" stroke-dasharray="7.4 1.6" stroke-dashoffset="0" clip-path="url(#cb)" stroke-linejoin="round"/>
<g stroke="#000" stroke-width="1.35" fill="none"><path d="M63.34,277.00v-2.7 M63.34,145.00v2.7" /><path d="M86.79,277.00v-2.7 M86.79,145.00v2.7" /><path d="M110.23,277.00v-2.7 M110.23,145.00v2.7" /><path d="M133.67,277.00v-2.7 M133.67,145.00v2.7" /><path d="M157.11,277.00v-2.7 M157.11,145.00v2.7" /><path d="M180.56,277.00v-2.7 M180.56,145.00v2.7" /><path d="M39.90,167.00h2.7 M204.00,167.00h-2.7" /><path d="M39.90,189.00h2.7 M204.00,189.00h-2.7" /><path d="M39.90,211.00h2.7 M204.00,211.00h-2.7" /><path d="M39.90,233.00h2.7 M204.00,233.00h-2.7" /><path d="M39.90,255.00h2.7 M204.00,255.00h-2.7" /></g>
<rect x="39.9" y="145.0" width="164.10" height="132.00" fill="none" stroke="#000" stroke-width="1.7"/>
<path d="M325.20,7.60V13.90 M325.20,20.32V26.62 M325.20,33.04V39.34 M325.20,45.76V52.06 M325.20,58.48V64.78 M325.20,71.20V77.50 M325.20,83.92V90.22 M325.20,96.64V102.94 M325.20,109.36V115.66 M325.20,122.08V128.38 M325.20,134.80V139.90 " stroke="#444" stroke-width="1.4" fill="none"/>
<path d="M245.10,-10.32 L245.60,-9.82 L246.10,-9.32 L246.60,-8.82 L247.10,-8.32 L247.60,-7.81 L248.10,-7.31 L248.60,-6.81 L249.10,-6.31 L249.60,-5.81 L250.10,-5.31 L250.60,-4.81 L251.10,-4.31 L251.60,-3.81 L252.10,-3.30 L252.60,-2.80 L253.10,-2.30 L253.60,-1.80 L254.10,-1.30 L254.60,-0.80 L255.10,-0.30 L255.60,0.19 L256.10,0.69 L256.60,1.19 L257.10,1.69 L257.60,2.19 L258.10,2.69 L258.60,3.19 L259.10,3.69 L259.60,4.19 L260.10,4.68 L260.60,5.18 L261.10,5.68 L261.60,6.18 L262.10,6.67 L262.60,7.17 L263.10,7.67 L263.60,8.16 L264.10,8.66 L264.60,9.16 L265.10,9.65 L265.60,10.15 L266.10,10.64 L266.60,11.14 L267.10,11.64 L267.60,12.13 L268.10,12.62 L268.60,13.12 L269.10,13.61 L269.60,14.11 L270.10,14.60 L270.60,15.09 L271.10,15.59 L271.60,16.08 L272.10,16.57 L272.60,17.06 L273.10,17.56 L273.60,18.05 L274.10,18.54 L274.60,19.03 L275.10,19.52 L275.60,20.01 L276.10,20.50 L276.60,20.99 L277.10,21.48 L277.60,21.96 L278.10,22.45 L278.60,22.94 L279.10,23.42 L279.60,23.91 L280.10,24.40 L280.60,24.88 L281.10,25.37 L281.60,25.85 L282.10,26.33 L282.60,26.82 L283.10,27.30 L283.60,27.78 L284.10,28.26 L284.60,28.74 L285.10,29.22 L285.60,29.70 L286.10,30.18 L286.60,30.66 L287.10,31.13 L287.60,31.61 L288.10,32.09 L288.60,32.56 L289.10,33.03 L289.60,33.51 L290.10,33.98 L290.60,34.45 L291.10,34.92 L291.60,35.38 L292.10,35.85 L292.60,36.32 L293.10,36.78 L293.60,37.24 L294.10,37.71 L294.60,38.17 L295.10,38.63 L295.60,39.08 L296.10,39.54 L296.60,39.99 L297.10,40.45 L297.60,40.90 L298.10,41.35 L298.60,41.79 L299.10,42.24 L299.60,42.68 L300.10,43.12 L300.60,43.56 L301.10,43.99 L301.60,44.43 L302.10,44.86 L302.60,45.28 L303.10,45.71 L303.60,46.13 L304.10,46.55 L304.60,46.96 L305.10,47.37 L305.60,47.78 L306.10,48.18 L306.60,48.58 L307.10,48.97 L307.60,49.36 L308.10,49.74 L308.60,50.12 L309.10,50.50 L309.60,50.86 L310.10,51.22 L310.60,51.58 L311.10,51.93 L311.60,52.27 L312.10,52.60 L312.60,52.93 L313.10,53.24 L313.60,53.55 L314.10,53.85 L314.60,54.14 L315.10,54.42 L315.60,54.69 L316.10,54.94 L316.60,55.19 L317.10,55.42 L317.60,55.64 L318.10,55.85 L318.60,56.04 L319.10,56.22 L319.60,56.39 L320.10,56.54 L320.60,56.68 L321.10,56.80 L321.60,56.90 L322.10,56.99 L322.60,57.06 L323.10,57.11 L323.60,57.15 L324.10,57.17 L324.60,57.18 L325.10,57.17 L325.60,57.14 L326.10,57.09 L326.60,57.03 L327.10,56.96 L327.60,56.87 L328.10,56.76 L328.60,56.64 L329.10,56.51 L329.60,56.36 L330.10,56.20 L330.60,56.02 L331.10,55.84 L331.60,55.64 L332.10,55.43 L332.60,55.21 L333.10,54.98 L333.60,54.74 L334.10,54.50 L334.60,54.24 L335.10,53.97 L335.60,53.70 L336.10,53.42 L336.60,53.13 L337.10,52.83 L337.60,52.53 L338.10,52.23 L338.60,51.91 L339.10,51.59 L339.60,51.27 L340.10,50.94 L340.60,50.60 L341.10,50.27 L341.60,49.92 L342.10,49.58 L342.60,49.22 L343.10,48.87 L343.60,48.51 L344.10,48.15 L344.60,47.79 L345.10,47.42 L345.60,47.05 L346.10,46.67 L346.60,46.30 L347.10,45.92 L347.60,45.54 L348.10,45.16 L348.60,44.77 L349.10,44.38 L349.60,43.99 L350.10,43.60 L350.60,43.21 L351.10,42.82 L351.60,42.42 L352.10,42.02 L352.60,41.62 L353.10,41.22 L353.60,40.82 L354.10,40.41 L354.60,40.01 L355.10,39.60 L355.60,39.20 L356.10,38.79 L356.60,38.38 L357.10,37.97 L357.60,37.55 L358.10,37.14 L358.60,36.73 L359.10,36.31 L359.60,35.90 L360.10,35.48 L360.60,35.06 L361.10,34.65 L361.60,34.23 L362.10,33.81 L362.60,33.39 L363.10,32.97 L363.60,32.54 L364.10,32.12 L364.60,31.70 L365.10,31.27 L365.60,30.85 L366.10,30.43 L366.60,30.00 L367.10,29.57 L367.60,29.15 L368.10,28.72 L368.60,28.29 L369.10,27.87 L369.60,27.44 L370.10,27.01 L370.60,26.58 L371.10,26.15 L371.60,25.72 L372.10,25.29 L372.60,24.86 L373.10,24.43 L373.60,24.00 L374.10,23.56 L374.60,23.13 L375.10,22.70 L375.60,22.27 L376.10,21.83 L376.60,21.40 L377.10,20.97 L377.60,20.53 L378.10,20.10 L378.60,19.66 L379.10,19.23 L379.60,18.79 L380.10,18.36 L380.60,17.92 L381.10,17.49 L381.60,17.05 L382.10,16.61 L382.60,16.18 L383.10,15.74 L383.60,15.30 L384.10,14.87 L384.60,14.43 L385.10,13.99 L385.60,13.55 L386.10,13.11 L386.60,12.68 L387.10,12.24 L387.60,11.80 L388.10,11.36 L388.60,10.92 L389.10,10.48 L389.60,10.04 L390.10,9.60 L390.60,9.16 L391.10,8.72 L391.60,8.28 L392.10,7.84 L392.60,7.40 L393.10,6.96 L393.60,6.52 L394.10,6.08 L394.60,5.64 L395.10,5.20 L395.60,4.76 L396.10,4.32 L396.60,3.88 L397.10,3.43 L397.60,2.99 L398.10,2.55 L398.60,2.11 L399.10,1.67 L399.60,1.23 L400.10,0.78 L400.60,0.34 L401.10,-0.10 L401.60,-0.54 L402.10,-0.99 L402.60,-1.43 L403.10,-1.87 L403.60,-2.31 L404.10,-2.76 L404.60,-3.20 L405.10,-3.64 L405.60,-4.09 L406.10,-4.53 L406.60,-4.97 L407.10,-5.42 L407.60,-5.86 L408.10,-6.30 L408.60,-6.75 L409.10,-7.19 L409.60,-7.64 L410.10,-8.08 L410.60,-8.52 L411.10,-8.97 L411.60,-9.41 L412.10,-9.86" fill="none" stroke="#0000ff" stroke-width="1.5" clip-path="url(#cc)" stroke-linejoin="round"/>
<path d="M245.10,-17.77 L245.60,-17.27 L246.10,-16.77 L246.60,-16.28 L247.10,-15.78 L247.60,-15.28 L248.10,-14.78 L248.60,-14.29 L249.10,-13.79 L249.60,-13.29 L250.10,-12.80 L250.60,-12.30 L251.10,-11.80 L251.60,-11.31 L252.10,-10.81 L252.60,-10.31 L253.10,-9.82 L253.60,-9.32 L254.10,-8.83 L254.60,-8.33 L255.10,-7.83 L255.60,-7.34 L256.10,-6.84 L256.60,-6.35 L257.10,-5.85 L257.60,-5.36 L258.10,-4.87 L258.60,-4.37 L259.10,-3.88 L259.60,-3.38 L260.10,-2.89 L260.60,-2.40 L261.10,-1.90 L261.60,-1.41 L262.10,-0.92 L262.60,-0.43 L263.10,0.07 L263.60,0.56 L264.10,1.05 L264.60,1.54 L265.10,2.03 L265.60,2.52 L266.10,3.01 L266.60,3.50 L267.10,3.99 L267.60,4.48 L268.10,4.97 L268.60,5.46 L269.10,5.95 L269.60,6.44 L270.10,6.93 L270.60,7.42 L271.10,7.90 L271.60,8.39 L272.10,8.88 L272.60,9.36 L273.10,9.85 L273.60,10.34 L274.10,10.82 L274.60,11.31 L275.10,11.79 L275.60,12.28 L276.10,12.76 L276.60,13.24 L277.10,13.72 L277.60,14.21 L278.10,14.69 L278.60,15.17 L279.10,15.65 L279.60,16.13 L280.10,16.61 L280.60,17.09 L281.10,17.57 L281.60,18.04 L282.10,18.52 L282.60,19.00 L283.10,19.47 L283.60,19.95 L284.10,20.42 L284.60,20.89 L285.10,21.37 L285.60,21.84 L286.10,22.31 L286.60,22.78 L287.10,23.25 L287.60,23.72 L288.10,24.19 L288.60,24.65 L289.10,25.12 L289.60,25.58 L290.10,26.04 L290.60,26.51 L291.10,26.97 L291.60,27.43 L292.10,27.88 L292.60,28.34 L293.10,28.80 L293.60,29.25 L294.10,29.70 L294.60,30.16 L295.10,30.61 L295.60,31.05 L296.10,31.50 L296.60,31.94 L297.10,32.39 L297.60,32.83 L298.10,33.26 L298.60,33.70 L299.10,34.14 L299.60,34.57 L300.10,35.00 L300.60,35.42 L301.10,35.85 L301.60,36.27 L302.10,36.69 L302.60,37.10 L303.10,37.51 L303.60,37.92 L304.10,38.33 L304.60,38.73 L305.10,39.13 L305.60,39.52 L306.10,39.91 L306.60,40.30 L307.10,40.68 L307.60,41.06 L308.10,41.43 L308.60,41.79 L309.10,42.15 L309.60,42.51 L310.10,42.86 L310.60,43.20 L311.10,43.53 L311.60,43.86 L312.10,44.18 L312.60,44.49 L313.10,44.80 L313.60,45.10 L314.10,45.38 L314.60,45.66 L315.10,45.93 L315.60,46.19 L316.10,46.44 L316.60,46.68 L317.10,46.90 L317.60,47.12 L318.10,47.32 L318.60,47.51 L319.10,47.69 L319.60,47.86 L320.10,48.01 L320.60,48.14 L321.10,48.27 L321.60,48.38 L322.10,48.47 L322.60,48.55 L323.10,48.61 L323.60,48.66 L324.10,48.70 L324.60,48.72 L325.10,48.72 L325.60,48.71 L326.10,48.68 L326.60,48.64 L327.10,48.59 L327.60,48.52 L328.10,48.43 L328.60,48.33 L329.10,48.22 L329.60,48.10 L330.10,47.96 L330.60,47.81 L331.10,47.65 L331.60,47.48 L332.10,47.29 L332.60,47.10 L333.10,46.89 L333.60,46.68 L334.10,46.45 L334.60,46.22 L335.10,45.98 L335.60,45.73 L336.10,45.47 L336.60,45.20 L337.10,44.93 L337.60,44.65 L338.10,44.36 L338.60,44.06 L339.10,43.76 L339.60,43.46 L340.10,43.15 L340.60,42.83 L341.10,42.51 L341.60,42.18 L342.10,41.85 L342.60,41.52 L343.10,41.18 L343.60,40.83 L344.10,40.49 L344.60,40.14 L345.10,39.78 L345.60,39.42 L346.10,39.06 L346.60,38.70 L347.10,38.33 L347.60,37.96 L348.10,37.59 L348.60,37.22 L349.10,36.84 L349.60,36.46 L350.10,36.08 L350.60,35.70 L351.10,35.31 L351.60,34.93 L352.10,34.54 L352.60,34.14 L353.10,33.75 L353.60,33.36 L354.10,32.96 L354.60,32.56 L355.10,32.16 L355.60,31.76 L356.10,31.36 L356.60,30.96 L357.10,30.55 L357.60,30.15 L358.10,29.74 L358.60,29.33 L359.10,28.92 L359.60,28.51 L360.10,28.10 L360.60,27.69 L361.10,27.28 L361.60,26.86 L362.10,26.45 L362.60,26.03 L363.10,25.62 L363.60,25.20 L364.10,24.78 L364.60,24.36 L365.10,23.94 L365.60,23.52 L366.10,23.10 L366.60,22.68 L367.10,22.26 L367.60,21.83 L368.10,21.41 L368.60,20.99 L369.10,20.56 L369.60,20.14 L370.10,19.71 L370.60,19.28 L371.10,18.86 L371.60,18.43 L372.10,18.00 L372.60,17.57 L373.10,17.14 L373.60,16.72 L374.10,16.29 L374.60,15.86 L375.10,15.43 L375.60,14.99 L376.10,14.56 L376.60,14.13 L377.10,13.70 L377.60,13.27 L378.10,12.83 L378.60,12.40 L379.10,11.97 L379.60,11.53 L380.10,11.10 L380.60,10.67 L381.10,10.23 L381.60,9.80 L382.10,9.36 L382.60,8.93 L383.10,8.49 L383.60,8.06 L384.10,7.62 L384.60,7.18 L385.10,6.75 L385.60,6.31 L386.10,5.87 L386.60,5.43 L387.10,5.00 L387.60,4.56 L388.10,4.12 L388.60,3.68 L389.10,3.24 L389.60,2.81 L390.10,2.37 L390.60,1.93 L391.10,1.49 L391.60,1.05 L392.10,0.61 L392.60,0.17 L393.10,-0.27 L393.60,-0.71 L394.10,-1.15 L394.60,-1.59 L395.10,-2.03 L395.60,-2.47 L396.10,-2.91 L396.60,-3.35 L397.10,-3.80 L397.60,-4.24 L398.10,-4.68 L398.60,-5.12 L399.10,-5.56 L399.60,-6.00 L400.10,-6.45 L400.60,-6.89 L401.10,-7.33 L401.60,-7.77 L402.10,-8.22 L402.60,-8.66 L403.10,-9.10 L403.60,-9.54 L404.10,-9.99 L404.60,-10.43 L405.10,-10.87 L405.60,-11.32 L406.10,-11.76 L406.60,-12.20 L407.10,-12.65 L407.60,-13.09 L408.10,-13.53 L408.60,-13.98 L409.10,-14.42 L409.60,-14.87 L410.10,-15.31 L410.60,-15.75 L411.10,-16.20 L411.60,-16.64 L412.10,-17.09" fill="none" stroke="#ff8000" stroke-width="1.5" stroke-dasharray="7.4 1.6" stroke-dashoffset="0" clip-path="url(#cc)" stroke-linejoin="round"/>
<path d="M245.10,147.00 L245.60,146.55 L246.10,146.10 L246.60,145.65 L247.10,145.20 L247.60,144.75 L248.10,144.30 L248.60,143.85 L249.10,143.40 L249.60,142.95 L250.10,142.50 L250.60,142.05 L251.10,141.60 L251.60,141.15 L252.10,140.70 L252.60,140.25 L253.10,139.80 L253.60,139.35 L254.10,138.90 L254.60,138.45 L255.10,138.00 L255.60,137.56 L256.10,137.11 L256.60,136.66 L257.10,136.21 L257.60,135.76 L258.10,135.32 L258.60,134.87 L259.10,134.42 L259.60,133.97 L260.10,133.53 L260.60,133.08 L261.10,132.63 L261.60,132.18 L262.10,131.74 L262.60,131.29 L263.10,130.85 L263.60,130.40 L264.10,129.95 L264.60,129.51 L265.10,129.06 L265.60,128.62 L266.10,128.17 L266.60,127.73 L267.10,127.28 L267.60,126.84 L268.10,126.39 L268.60,125.95 L269.10,125.51 L269.60,125.06 L270.10,124.62 L270.60,124.18 L271.10,123.73 L271.60,123.29 L272.10,122.85 L272.60,122.41 L273.10,121.97 L273.60,121.53 L274.10,121.09 L274.60,120.64 L275.10,120.20 L275.60,119.76 L276.10,119.33 L276.60,118.89 L277.10,118.45 L277.60,118.01 L278.10,117.57 L278.60,117.13 L279.10,116.70 L279.60,116.26 L280.10,115.82 L280.60,115.39 L281.10,114.95 L281.60,114.52 L282.10,114.08 L282.60,113.65 L283.10,113.22 L283.60,112.78 L284.10,112.35 L284.60,111.92 L285.10,111.49 L285.60,111.06 L286.10,110.63 L286.60,110.20 L287.10,109.77 L287.60,109.35 L288.10,108.92 L288.60,108.49 L289.10,108.07 L289.60,107.64 L290.10,107.22 L290.60,106.80 L291.10,106.38 L291.60,105.96 L292.10,105.54 L292.60,105.12 L293.10,104.70 L293.60,104.29 L294.10,103.87 L294.60,103.46 L295.10,103.05 L295.60,102.63 L296.10,102.23 L296.60,101.82 L297.10,101.41 L297.60,101.01 L298.10,100.60 L298.60,100.20 L299.10,99.80 L299.60,99.41 L300.10,99.01 L300.60,98.62 L301.10,98.23 L301.60,97.84 L302.10,97.45 L302.60,97.07 L303.10,96.69 L303.60,96.31 L304.10,95.94 L304.60,95.57 L305.10,95.20 L305.60,94.83 L306.10,94.47 L306.60,94.12 L307.10,93.76 L307.60,93.41 L308.10,93.07 L308.60,92.73 L309.10,92.40 L309.60,92.07 L310.10,91.75 L310.60,91.43 L311.10,91.12 L311.60,90.82 L312.10,90.52 L312.60,90.23 L313.10,89.95 L313.60,89.68 L314.10,89.42 L314.60,89.16 L315.10,88.92 L315.60,88.69 L316.10,88.46 L316.60,88.25 L317.10,88.05 L317.60,87.86 L318.10,87.69 L318.60,87.53 L319.10,87.38 L319.60,87.25 L320.10,87.13 L320.60,87.03 L321.10,86.95 L321.60,86.88 L322.10,86.82 L322.60,86.79 L323.10,86.77 L323.60,86.77 L324.10,86.78 L324.60,86.82 L325.10,86.87 L325.60,86.94 L326.10,87.02 L326.60,87.12 L327.10,87.24 L327.60,87.37 L328.10,87.53 L328.60,87.69 L329.10,87.87 L329.60,88.07 L330.10,88.27 L330.60,88.50 L331.10,88.73 L331.60,88.98 L332.10,89.23 L332.60,89.50 L333.10,89.78 L333.60,90.07 L334.10,90.37 L334.60,90.68 L335.10,91.00 L335.60,91.32 L336.10,91.66 L336.60,92.00 L337.10,92.34 L337.60,92.70 L338.10,93.06 L338.60,93.43 L339.10,93.80 L339.60,94.17 L340.10,94.56 L340.60,94.94 L341.10,95.33 L341.60,95.73 L342.10,96.13 L342.60,96.53 L343.10,96.94 L343.60,97.35 L344.10,97.76 L344.60,98.18 L345.10,98.60 L345.60,99.02 L346.10,99.45 L346.60,99.88 L347.10,100.31 L347.60,100.74 L348.10,101.17 L348.60,101.61 L349.10,102.05 L349.60,102.49 L350.10,102.93 L350.60,103.38 L351.10,103.82 L351.60,104.27 L352.10,104.72 L352.60,105.17 L353.10,105.63 L353.60,106.08 L354.10,106.53 L354.60,106.99 L355.10,107.45 L355.60,107.91 L356.10,108.37 L356.60,108.83 L357.10,109.29 L357.60,109.75 L358.10,110.21 L358.60,110.68 L359.10,111.14 L359.60,111.61 L360.10,112.08 L360.60,112.54 L361.10,113.01 L361.60,113.48 L362.10,113.95 L362.60,114.42 L363.10,114.89 L363.60,115.37 L364.10,115.84 L364.60,116.31 L365.10,116.79 L365.60,117.26 L366.10,117.73 L366.60,118.21 L367.10,118.69 L367.60,119.16 L368.10,119.64 L368.60,120.12 L369.10,120.59 L369.60,121.07 L370.10,121.55 L370.60,122.03 L371.10,122.51 L371.60,122.99 L372.10,123.47 L372.60,123.95 L373.10,124.43 L373.60,124.91 L374.10,125.39 L374.60,125.87 L375.10,126.36 L375.60,126.84 L376.10,127.32 L376.60,127.80 L377.10,128.29 L377.60,128.77 L378.10,129.26 L378.60,129.74 L379.10,130.22 L379.60,130.71 L380.10,131.19 L380.60,131.68 L381.10,132.16 L381.60,132.65 L382.10,133.13 L382.60,133.62 L383.10,134.11 L383.60,134.59 L384.10,135.08 L384.60,135.57 L385.10,136.05 L385.60,136.54 L386.10,137.03 L386.60,137.51 L387.10,138.00 L387.60,138.49 L388.10,138.98 L388.60,139.47 L389.10,139.95 L389.60,140.44 L390.10,140.93 L390.60,141.42 L391.10,141.91 L391.60,142.40 L392.10,142.89 L392.60,143.38 L393.10,143.87 L393.60,144.36 L394.10,144.85 L394.60,145.34 L395.10,145.82 L395.60,146.32 L396.10,146.81 L396.60,147.30 L397.10,147.79 L397.60,148.28 L398.10,148.77 L398.60,149.26 L399.10,149.75 L399.60,150.24 L400.10,150.73 L400.60,151.22 L401.10,151.71 L401.60,152.20 L402.10,152.70 L402.60,153.19 L403.10,153.68 L403.60,154.17 L404.10,154.66 L404.60,155.15 L405.10,155.65 L405.60,156.14 L406.10,156.63 L406.60,157.12 L407.10,157.61 L407.60,158.11 L408.10,158.60 L408.60,159.09 L409.10,159.58 L409.60,160.08 L410.10,160.57 L410.60,161.06 L411.10,161.55 L411.60,162.05 L412.10,162.54" fill="none" stroke="#ff0000" stroke-width="1.5" clip-path="url(#cc)" stroke-linejoin="round"/>
<path d="M245.10,137.12 L245.60,136.68 L246.10,136.23 L246.60,135.78 L247.10,135.34 L247.60,134.89 L248.10,134.45 L248.60,134.00 L249.10,133.55 L249.60,133.11 L250.10,132.66 L250.60,132.22 L251.10,131.77 L251.60,131.33 L252.10,130.88 L252.60,130.44 L253.10,129.99 L253.60,129.55 L254.10,129.11 L254.60,128.66 L255.10,128.22 L255.60,127.77 L256.10,127.33 L256.60,126.89 L257.10,126.44 L257.60,126.00 L258.10,125.56 L258.60,125.12 L259.10,124.67 L259.60,124.23 L260.10,123.79 L260.60,123.35 L261.10,122.91 L261.60,122.47 L262.10,122.02 L262.60,121.58 L263.10,121.14 L263.60,120.70 L264.10,120.26 L264.60,119.82 L265.10,119.38 L265.60,118.94 L266.10,118.51 L266.60,118.07 L267.10,117.63 L267.60,117.19 L268.10,116.75 L268.60,116.32 L269.10,115.88 L269.60,115.44 L270.10,115.01 L270.60,114.57 L271.10,114.13 L271.60,113.70 L272.10,113.26 L272.60,112.83 L273.10,112.40 L273.60,111.96 L274.10,111.53 L274.60,111.10 L275.10,110.66 L275.60,110.23 L276.10,109.80 L276.60,109.37 L277.10,108.94 L277.60,108.51 L278.10,108.08 L278.60,107.65 L279.10,107.22 L279.60,106.79 L280.10,106.37 L280.60,105.94 L281.10,105.51 L281.60,105.09 L282.10,104.66 L282.60,104.24 L283.10,103.82 L283.60,103.39 L284.10,102.97 L284.60,102.55 L285.10,102.13 L285.60,101.71 L286.10,101.29 L286.60,100.88 L287.10,100.46 L287.60,100.04 L288.10,99.63 L288.60,99.22 L289.10,98.80 L289.60,98.39 L290.10,97.98 L290.60,97.57 L291.10,97.17 L291.60,96.76 L292.10,96.35 L292.60,95.95 L293.10,95.55 L293.60,95.15 L294.10,94.75 L294.60,94.35 L295.10,93.95 L295.60,93.56 L296.10,93.17 L296.60,92.78 L297.10,92.39 L297.60,92.00 L298.10,91.61 L298.60,91.23 L299.10,90.85 L299.60,90.47 L300.10,90.10 L300.60,89.73 L301.10,89.36 L301.60,88.99 L302.10,88.63 L302.60,88.27 L303.10,87.91 L303.60,87.55 L304.10,87.20 L304.60,86.86 L305.10,86.51 L305.60,86.17 L306.10,85.84 L306.60,85.51 L307.10,85.18 L307.60,84.86 L308.10,84.55 L308.60,84.24 L309.10,83.93 L309.60,83.64 L310.10,83.34 L310.60,83.06 L311.10,82.78 L311.60,82.51 L312.10,82.24 L312.60,81.99 L313.10,81.74 L313.60,81.50 L314.10,81.27 L314.60,81.05 L315.10,80.84 L315.60,80.63 L316.10,80.44 L316.60,80.26 L317.10,80.09 L317.60,79.94 L318.10,79.79 L318.60,79.66 L319.10,79.54 L319.60,79.43 L320.10,79.33 L320.60,79.25 L321.10,79.19 L321.60,79.14 L322.10,79.10 L322.60,79.08 L323.10,79.07 L323.60,79.07 L324.10,79.09 L324.60,79.13 L325.10,79.18 L325.60,79.25 L326.10,79.33 L326.60,79.42 L327.10,79.53 L327.60,79.66 L328.10,79.79 L328.60,79.95 L329.10,80.11 L329.60,80.29 L330.10,80.48 L330.60,80.68 L331.10,80.89 L331.60,81.12 L332.10,81.35 L332.60,81.60 L333.10,81.85 L333.60,82.12 L334.10,82.40 L334.60,82.68 L335.10,82.97 L335.60,83.28 L336.10,83.59 L336.60,83.90 L337.10,84.23 L337.60,84.56 L338.10,84.90 L338.60,85.24 L339.10,85.59 L339.60,85.95 L340.10,86.31 L340.60,86.68 L341.10,87.05 L341.60,87.42 L342.10,87.80 L342.60,88.19 L343.10,88.58 L343.60,88.97 L344.10,89.37 L344.60,89.77 L345.10,90.18 L345.60,90.59 L346.10,91.00 L346.60,91.41 L347.10,91.83 L347.60,92.25 L348.10,92.67 L348.60,93.09 L349.10,93.52 L349.60,93.95 L350.10,94.38 L350.60,94.82 L351.10,95.25 L351.60,95.69 L352.10,96.13 L352.60,96.57 L353.10,97.02 L353.60,97.46 L354.10,97.91 L354.60,98.36 L355.10,98.81 L355.60,99.26 L356.10,99.71 L356.60,100.17 L357.10,100.62 L357.60,101.08 L358.10,101.54 L358.60,102.00 L359.10,102.46 L359.60,102.92 L360.10,103.38 L360.60,103.85 L361.10,104.31 L361.60,104.78 L362.10,105.24 L362.60,105.71 L363.10,106.18 L363.60,106.65 L364.10,107.12 L364.60,107.59 L365.10,108.06 L365.60,108.53 L366.10,109.00 L366.60,109.47 L367.10,109.95 L367.60,110.42 L368.10,110.90 L368.60,111.37 L369.10,111.85 L369.60,112.33 L370.10,112.80 L370.60,113.28 L371.10,113.76 L371.60,114.24 L372.10,114.72 L372.60,115.20 L373.10,115.68 L373.60,116.16 L374.10,116.64 L374.60,117.12 L375.10,117.61 L375.60,118.09 L376.10,118.57 L376.60,119.06 L377.10,119.54 L377.60,120.02 L378.10,120.51 L378.60,120.99 L379.10,121.48 L379.60,121.96 L380.10,122.45 L380.60,122.93 L381.10,123.42 L381.60,123.91 L382.10,124.39 L382.60,124.88 L383.10,125.37 L383.60,125.86 L384.10,126.35 L384.60,126.83 L385.10,127.32 L385.60,127.81 L386.10,128.30 L386.60,128.79 L387.10,129.28 L387.60,129.77 L388.10,130.26 L388.60,130.75 L389.10,131.24 L389.60,131.73 L390.10,132.22 L390.60,132.71 L391.10,133.20 L391.60,133.69 L392.10,134.19 L392.60,134.68 L393.10,135.17 L393.60,135.66 L394.10,136.15 L394.60,136.65 L395.10,137.14 L395.60,137.63 L396.10,138.13 L396.60,138.62 L397.10,139.11 L397.60,139.61 L398.10,140.10 L398.60,140.59 L399.10,141.09 L399.60,141.58 L400.10,142.07 L400.60,142.57 L401.10,143.06 L401.60,143.56 L402.10,144.05 L402.60,144.55 L403.10,145.04 L403.60,145.54 L404.10,146.03 L404.60,146.53 L405.10,147.02 L405.60,147.52 L406.10,148.01 L406.60,148.51 L407.10,149.00 L407.60,149.50 L408.10,150.00 L408.60,150.49 L409.10,150.99 L409.60,151.49 L410.10,151.98 L410.60,152.48 L411.10,152.97 L411.60,153.47 L412.10,153.97" fill="none" stroke="#00aa00" stroke-width="1.5" stroke-dasharray="2.4 1.6" stroke-dashoffset="0" clip-path="url(#cc)" stroke-linejoin="round"/>
<g stroke="#000" stroke-width="1.35" fill="none"><path d="M271.10,139.90v-2.7 M271.10,7.60v2.7" /><path d="M294.10,139.90v-2.7 M294.10,7.60v2.7" /><path d="M317.10,139.90v-2.7 M317.10,7.60v2.7" /><path d="M340.10,139.90v-2.7 M340.10,7.60v2.7" /><path d="M363.10,139.90v-2.7 M363.10,7.60v2.7" /><path d="M386.10,139.90v-2.7 M386.10,7.60v2.7" /><path d="M248.10,24.14h2.7 M409.10,24.14h-2.7" /><path d="M248.10,40.68h2.7 M409.10,40.68h-2.7" /><path d="M248.10,57.21h2.7 M409.10,57.21h-2.7" /><path d="M248.10,73.75h2.7 M409.10,73.75h-2.7" /><path d="M248.10,90.29h2.7 M409.10,90.29h-2.7" /><path d="M248.10,106.83h2.7 M409.10,106.83h-2.7" /><path d="M248.10,123.36h2.7 M409.10,123.36h-2.7" /></g>
<rect x="248.1" y="7.6" width="161.00" height="132.30" fill="none" stroke="#000" stroke-width="1.7"/>
<path d="M325.05,145.00V151.30 M325.05,157.72V164.02 M325.05,170.44V176.74 M325.05,183.16V189.46 M325.05,195.88V202.18 M325.05,208.60V214.90 M325.05,221.32V227.62 M325.05,234.04V240.34 M325.05,246.76V253.06 M325.05,259.48V265.78 M325.05,272.20V277.30 " stroke="#444" stroke-width="1.4" fill="none"/>
<path d="M246.0,147.5H409.9" stroke="#00aa00" stroke-width="1.3" stroke-dasharray="2.4 1.6" fill="none"/>
<path d="M246.0,147.0H409.9" stroke="#ff8000" stroke-width="1.4" stroke-dasharray="7.4 1.6" fill="none"/>
<path d="M246.0,274.5 L300,274.6 L318,275.0 L325,275.6 L409.9,275.8" stroke="#ff0000" stroke-width="1.5" fill="none"/>
<path d="M246.0,275.7 L300,275.6 L318,275.2 L325,274.7 L335,274.9 L409.9,275.2" stroke="#0000ff" stroke-width="1.6" fill="none"/>
<g stroke="#000" stroke-width="1.35" fill="none"><path d="M269.41,277.30v-2.7 M269.41,145.00v2.7" /><path d="M292.83,277.30v-2.7 M292.83,145.00v2.7" /><path d="M316.24,277.30v-2.7 M316.24,145.00v2.7" /><path d="M339.66,277.30v-2.7 M339.66,145.00v2.7" /><path d="M363.07,277.30v-2.7 M363.07,145.00v2.7" /><path d="M386.49,277.30v-2.7 M386.49,145.00v2.7" /><path d="M246.00,167.05h2.7 M409.90,167.05h-2.7" /><path d="M246.00,189.10h2.7 M409.90,189.10h-2.7" /><path d="M246.00,211.15h2.7 M409.90,211.15h-2.7" /><path d="M246.00,233.20h2.7 M409.90,233.20h-2.7" /><path d="M246.00,255.25h2.7 M409.90,255.25h-2.7" /></g>
<rect x="246.0" y="145.0" width="163.90" height="132.30" fill="none" stroke="#000" stroke-width="1.7"/>
<rect x="202.9" y="137.7" width="2.2" height="2.6" fill="#000"/><rect x="204" y="145.1" width="2.1" height="3.4" fill="#000"/><rect x="202.9" y="7.9" width="2.0" height="2.8" fill="#000"/>
<rect x="147.6" y="52.1" width="50.70" height="38.90" fill="#fff" stroke="#000" stroke-width="1.4"/>
<clipPath id="ci"><rect x="147.6" y="52.1" width="50.70" height="38.90"/></clipPath>
<path d="M147.70,55.60 L148.70,56.04 L149.70,56.49 L150.70,56.98 L151.70,57.51 L152.70,58.11 L153.70,58.78 L154.70,59.55 L155.70,60.42 L156.70,61.41 L157.70,62.50 L158.70,63.68 L159.70,64.96 L160.70,66.32 L161.70,67.76 L162.70,69.27 L163.70,70.86 L164.70,72.52 L165.70,74.24 L166.70,76.03 L167.70,77.87 L168.70,79.78 L169.70,81.73 L170.70,83.71 L171.70,85.70 L172.70,87.47 L173.70,88.30 L174.70,87.61 L175.70,85.89 L176.70,83.91 L177.70,81.93 L178.70,79.98 L179.70,78.07 L180.70,76.19 L181.70,74.37 L182.70,72.62 L183.70,70.94 L184.70,69.35 L185.70,67.87 L186.70,66.50 L187.70,65.24 L188.70,64.09 L189.70,63.02 L190.70,62.03 L191.70,61.11 L192.70,60.23 L193.70,59.39 L194.70,58.58 L195.70,57.79 L196.70,57.02 L197.70,56.25" fill="none" stroke="#ff0000" stroke-width="1.6" clip-path="url(#ci)" stroke-linejoin="round"/>
<path d="M147.70,55.60 L148.70,56.04 L149.70,56.49 L150.70,56.98 L151.70,57.51 L152.70,58.11 L153.70,58.78 L154.70,59.55 L155.70,60.42 L156.70,61.41 L157.70,62.50 L158.70,63.68 L159.70,64.96 L160.70,66.32 L161.70,67.76 L162.70,69.27 L163.70,70.86 L164.70,72.52 L165.70,74.24 L166.70,76.03 L167.70,77.87 L168.70,79.78 L169.70,81.73 L170.70,83.71 L171.70,85.70 L172.70,87.47 L173.70,88.30 L174.70,87.61 L175.70,85.89 L176.70,83.91 L177.70,81.93 L178.70,79.98 L179.70,78.07 L180.70,76.19 L181.70,74.37 L182.70,72.62 L183.70,70.94 L184.70,69.35 L185.70,67.87 L186.70,66.50 L187.70,65.24 L188.70,64.09 L189.70,63.02 L190.70,62.03 L191.70,61.11 L192.70,60.23 L193.70,59.39 L194.70,58.58 L195.70,57.79 L196.70,57.02 L197.70,56.25" fill="none" stroke="#0000ff" stroke-width="1.6" stroke-dasharray="1.5 2.5" stroke-dashoffset="0" clip-path="url(#ci)" stroke-linejoin="round"/>
<text x="38.4" y="8.700000000000001" text-anchor="end" >-41.5</text>
<text x="38.4" y="41.787499999999994" text-anchor="end" >-42</text>
<text x="38.4" y="74.875" text-anchor="end" >-42.5</text>
<text x="38.4" y="107.96249999999999" text-anchor="end" >-43</text>
<text x="37.0" y="146.6" text-anchor="end" >1.5</text>
<text x="36.7" y="169.6" text-anchor="end" >1</text>
<text x="36.7" y="191.6" text-anchor="end" >0.5</text>
<text x="36.7" y="213.6" text-anchor="end" >0</text>
<text x="36.7" y="235.6" text-anchor="end" >-0.5</text>
<text x="36.7" y="257.6" text-anchor="end" >-1</text>
<text x="36.7" y="279.6" text-anchor="end" >-1.5</text>
<text x="39.4" y="290.4" text-anchor="middle" >11</text>
<text x="86.28571428571428" y="290.4" text-anchor="middle" >13</text>
<text x="133.17142857142858" y="290.4" text-anchor="middle" >15</text>
<text x="180.05714285714285" y="290.4" text-anchor="middle" >17</text>
<text x="126" y="302.8" text-anchor="middle" >F (kV/cm)</text>
<text x="244.6" y="26.337500000000002" text-anchor="end" >-40.1</text>
<text x="244.6" y="59.41250000000001" text-anchor="end" >-40.3</text>
<text x="244.6" y="92.4875" text-anchor="end" >-40.5</text>
<text x="244.6" y="125.56250000000001" text-anchor="end" >-40.7</text>
<text x="243.4" y="146.6" text-anchor="end" >1.5</text>
<text x="243.2" y="169.05" text-anchor="end" >1</text>
<text x="243.2" y="191.1" text-anchor="end" >0.5</text>
<text x="243.2" y="213.15" text-anchor="end" >0</text>
<text x="243.2" y="235.2" text-anchor="end" >-0.5</text>
<text x="243.2" y="257.25" text-anchor="end" >-1</text>
<text x="243.2" y="279.3" text-anchor="end" >-1.5</text>
<text x="270.4142857142857" y="290.4" text-anchor="middle" >13</text>
<text x="317.24285714285713" y="290.4" text-anchor="middle" >14</text>
<text x="364.07142857142856" y="290.4" text-anchor="middle" >15</text>
<text x="410.9" y="290.4" text-anchor="middle" >16</text>
<text x="330.2" y="302.8" text-anchor="middle" >F (kV/cm)</text>
<text transform="translate(8.3,75.2) rotate(-90)" text-anchor="middle">Energy (meV)</text>
<text transform="translate(216.2,66.75) rotate(-90)" text-anchor="middle">Energy (meV)</text>
<text transform="translate(7.2,214.2) rotate(-90)" text-anchor="middle" font-size="10.5">&lt; J<tspan font-size="4" dy="-0.7" fill="#777">z</tspan><tspan dy="0.7"> &gt;</tspan></text>
<text transform="translate(218.8,211.7) rotate(-90)" text-anchor="middle" font-size="10.5">&lt; J<tspan font-size="4" dy="-0.7" fill="#777">z</tspan><tspan dy="0.7"> &gt;</tspan></text>
<text x="191.8" y="31" text-anchor="middle" font-size="13" font-weight="bold">(a)</text>
<text x="191.5" y="164.0" text-anchor="middle" font-size="13" font-weight="bold">(b)</text>
<text x="393.3" y="32.4" text-anchor="middle" font-size="13" font-weight="bold">(c)</text>
<text x="393.3" y="164.6" text-anchor="middle" font-size="13" font-weight="bold">(d)</text>
<path d="M89.40,12.00V21.50" stroke="#111" stroke-width="0.9" fill="none"/>
<text x="90.90" y="19.50" font-size="9.9">1</text>
<path d="M96.80,12.20 L99.60,16.90 L96.80,21.60" fill="none" stroke="#111" stroke-width="1.1"/>
<path d="M89.40,35.95V45.45" stroke="#111" stroke-width="0.9" fill="none"/>
<text x="90.90" y="43.45" font-size="9.9">2</text>
<path d="M96.80,36.15 L99.60,40.85 L96.80,45.55" fill="none" stroke="#111" stroke-width="1.1"/>
<path d="M89.40,96.90V106.40" stroke="#111" stroke-width="0.9" fill="none"/>
<text x="90.90" y="104.40" font-size="9.9">3</text>
<path d="M96.80,97.10 L99.60,101.80 L96.80,106.50" fill="none" stroke="#111" stroke-width="1.1"/>
<path d="M89.40,120.40V129.90" stroke="#111" stroke-width="0.9" fill="none"/>
<text x="90.90" y="127.90" font-size="9.9">4</text>
<path d="M96.80,120.60 L99.60,125.30 L96.80,130.00" fill="none" stroke="#111" stroke-width="1.1"/>
<path d="M294.30,17.00V26.50" stroke="#111" stroke-width="0.9" fill="none"/>
<text x="295.80" y="24.50" font-size="9.9">1</text>
<path d="M301.70,17.20 L304.50,21.90 L301.70,26.60" fill="none" stroke="#111" stroke-width="1.1"/>
<path d="M294.30,49.15V58.65" stroke="#111" stroke-width="0.9" fill="none"/>
<text x="295.80" y="56.65" font-size="9.9">2</text>
<path d="M301.70,49.35 L304.50,54.05 L301.70,58.75" fill="none" stroke="#111" stroke-width="1.1"/>
<path d="M293.70,74.90V84.40" stroke="#111" stroke-width="0.9" fill="none"/>
<text x="295.20" y="82.40" font-size="9.9">3</text>
<path d="M301.10,75.10 L303.90,79.80 L301.10,84.50" fill="none" stroke="#111" stroke-width="1.1"/>
<path d="M294.00,108.80V118.30" stroke="#111" stroke-width="0.9" fill="none"/>
<text x="295.50" y="116.30" font-size="9.9">4</text>
<path d="M301.40,109.00 L304.20,113.70 L301.40,118.40" fill="none" stroke="#111" stroke-width="1.1"/>
<text x="111.5" y="267.8" font-style="italic" font-size="10.8">F<tspan font-size="10.5" dy="1.6">r</tspan></text>
<text x="307.5" y="265" font-style="italic" font-size="10.8">F<tspan font-size="10.5" dy="1.6">r</tspan></text>
<text x="146.9" y="52.8" text-anchor="end" font-size="6.8" >50</text>
<text x="146.6" y="92.3" text-anchor="end" font-size="6.8" >0</text>
<text x="148.3" y="97.6" text-anchor="middle" font-size="6.5" >11</text>
<text x="199.6" y="97.6" text-anchor="middle" font-size="6.5" >18</text>
<text x="173.6" y="100.4" text-anchor="middle" font-size="7.8" >F (kV/cm)</text>
<text transform="translate(140.7,68.6) rotate(-90)" text-anchor="middle" font-size="7.9">|&#916;<tspan font-size="4.5" dy="1">g</tspan><tspan dy="-1">| (&#956;eV)</tspan></text>
<polygon points="46.00,41.40 63.75,48.50 82.50,41.40" fill="#626262" stroke="#1c1c1c" stroke-width="0.75" stroke-linejoin="round"/><polygon points="46.00,41.40 63.75,48.50 63.75,52.90 50.60,46.40" fill="#9c9c9c" stroke="#1c1c1c" stroke-width="0.75" stroke-linejoin="round"/><polygon points="82.50,41.40 63.75,48.50 63.75,52.90 79.40,46.40" fill="#888888" stroke="#1c1c1c" stroke-width="0.75" stroke-linejoin="round"/><polygon points="57.50,38.50 63.75,40.50 63.75,45.20 57.50,43.20" fill="#a8a8a8" stroke="#1c1c1c" stroke-width="0.75" stroke-linejoin="round"/><polygon points="70.60,38.50 63.75,40.50 63.75,45.20 70.60,43.20" fill="#8a8a8a" stroke="#1c1c1c" stroke-width="0.75" stroke-linejoin="round"/><polygon points="43.10,28.00 63.75,35.00 84.75,28.00" fill="#626262" stroke="#1c1c1c" stroke-width="0.75" stroke-linejoin="round"/><polygon points="43.10,28.00 63.75,35.00 63.75,41.40 47.50,35.10" fill="#9c9c9c" stroke="#1c1c1c" stroke-width="0.75" stroke-linejoin="round"/><polygon points="84.75,28.00 63.75,35.00 63.75,41.40 80.60,35.10" fill="#888888" stroke="#1c1c1c" stroke-width="0.75" stroke-linejoin="round"/><circle cx="63.75" cy="33.5" r="4.6" fill="url(#sg)" stroke="#1d4d24" stroke-width="0.9"/>
<polygon points="46.00,104.15 63.75,111.25 82.50,104.15" fill="#626262" stroke="#1c1c1c" stroke-width="0.75" stroke-linejoin="round"/><polygon points="46.00,104.15 63.75,111.25 63.75,115.65 50.60,109.15" fill="#9c9c9c" stroke="#1c1c1c" stroke-width="0.75" stroke-linejoin="round"/><polygon points="82.50,104.15 63.75,111.25 63.75,115.65 79.40,109.15" fill="#888888" stroke="#1c1c1c" stroke-width="0.75" stroke-linejoin="round"/><polygon points="57.50,101.25 63.75,103.25 63.75,107.95 57.50,105.95" fill="#a8a8a8" stroke="#1c1c1c" stroke-width="0.75" stroke-linejoin="round"/><polygon points="70.60,101.25 63.75,103.25 63.75,107.95 70.60,105.95" fill="#8a8a8a" stroke="#1c1c1c" stroke-width="0.75" stroke-linejoin="round"/><polygon points="43.10,90.75 63.75,97.75 84.75,90.75" fill="#626262" stroke="#1c1c1c" stroke-width="0.75" stroke-linejoin="round"/><polygon points="43.10,90.75 63.75,97.75 63.75,104.15 47.50,97.85" fill="#9c9c9c" stroke="#1c1c1c" stroke-width="0.75" stroke-linejoin="round"/><polygon points="84.75,90.75 63.75,97.75 63.75,104.15 80.60,97.85" fill="#888888" stroke="#1c1c1c" stroke-width="0.75" stroke-linejoin="round"/><circle cx="63.75" cy="110.4" r="4.6" fill="url(#sg)" stroke="#1d4d24" stroke-width="0.9"/>
<polygon points="253.50,51.00 262.25,53.25 262.90,58.25 257.00,55.50" fill="#8a8a8a" stroke="#1c1c1c" stroke-width="0.75" stroke-linejoin="round"/><polygon points="286.00,51.00 277.25,53.25 276.60,58.25 282.50,55.50" fill="#6a6a6a" stroke="#1c1c1c" stroke-width="0.75" stroke-linejoin="round"/><polygon points="262.25,53.25 277.25,53.25 276.60,58.25 262.90,58.25" fill="#9a9a9a" stroke="#1c1c1c" stroke-width="0.75" stroke-linejoin="round"/><polygon points="253.50,51.00 259.75,47.60 279.10,47.60 286.00,51.00 277.25,53.25 262.25,53.25" fill="#7e7e7e" stroke="#1c1c1c" stroke-width="0.75" stroke-linejoin="round"/><polygon points="263.50,45.50 267.00,45.50 267.00,51.30 263.50,50.30" fill="#8a8a8a" stroke="#1c1c1c" stroke-width="0.75" stroke-linejoin="round"/><polygon points="267.00,45.50 273.00,45.50 273.00,51.30 267.00,51.30" fill="#a5a5a5" stroke="#1c1c1c" stroke-width="0.75" stroke-linejoin="round"/><polygon points="273.00,45.50 276.00,45.50 276.00,50.30 273.00,51.30" fill="#6f6f6f" stroke="#1c1c1c" stroke-width="0.75" stroke-linejoin="round"/><polygon points="251.00,36.75 261.00,39.50 261.60,45.75 254.50,42.20" fill="#8a8a8a" stroke="#1c1c1c" stroke-width="0.75" stroke-linejoin="round"/><polygon points="287.90,36.75 278.50,39.50 277.90,45.75 284.50,42.20" fill="#6a6a6a" stroke="#1c1c1c" stroke-width="0.75" stroke-linejoin="round"/><polygon points="261.00,39.50 278.50,39.50 277.90,45.75 261.60,45.75" fill="#9a9a9a" stroke="#1c1c1c" stroke-width="0.75" stroke-linejoin="round"/><polygon points="251.00,36.75 258.50,33.00 279.75,33.00 287.90,36.75 278.50,39.50 261.00,39.50" fill="#7e7e7e" stroke="#1c1c1c" stroke-width="0.75" stroke-linejoin="round"/><circle cx="269.75" cy="38.9" r="4.6" fill="url(#sg)" stroke="#1d4d24" stroke-width="0.9"/>
<path d="M265.3,39.5H274.2" stroke="#1d4d24" stroke-width="0.6"/>
<polygon points="254.10,93.40 262.85,95.65 263.50,100.65 257.60,97.90" fill="#8a8a8a" stroke="#1c1c1c" stroke-width="0.75" stroke-linejoin="round"/><polygon points="286.60,93.40 277.85,95.65 277.20,100.65 283.10,97.90" fill="#6a6a6a" stroke="#1c1c1c" stroke-width="0.75" stroke-linejoin="round"/><polygon points="262.85,95.65 277.85,95.65 277.20,100.65 263.50,100.65" fill="#9a9a9a" stroke="#1c1c1c" stroke-width="0.75" stroke-linejoin="round"/><polygon points="254.10,93.40 260.35,90.00 279.70,90.00 286.60,93.40 277.85,95.65 262.85,95.65" fill="#7e7e7e" stroke="#1c1c1c" stroke-width="0.75" stroke-linejoin="round"/><polygon points="264.10,87.90 267.60,87.90 267.60,93.70 264.10,92.70" fill="#8a8a8a" stroke="#1c1c1c" stroke-width="0.75" stroke-linejoin="round"/><polygon points="267.60,87.90 273.60,87.90 273.60,93.70 267.60,93.70" fill="#a5a5a5" stroke="#1c1c1c" stroke-width="0.75" stroke-linejoin="round"/><polygon points="273.60,87.90 276.60,87.90 276.60,92.70 273.60,93.70" fill="#6f6f6f" stroke="#1c1c1c" stroke-width="0.75" stroke-linejoin="round"/><polygon points="251.60,79.15 261.60,81.90 262.20,88.15 255.10,84.60" fill="#8a8a8a" stroke="#1c1c1c" stroke-width="0.75" stroke-linejoin="round"/><polygon points="288.50,79.15 279.10,81.90 278.50,88.15 285.10,84.60" fill="#6a6a6a" stroke="#1c1c1c" stroke-width="0.75" stroke-linejoin="round"/><polygon points="261.60,81.90 279.10,81.90 278.50,88.15 262.20,88.15" fill="#9a9a9a" stroke="#1c1c1c" stroke-width="0.75" stroke-linejoin="round"/><polygon points="251.60,79.15 259.10,75.40 280.35,75.40 288.50,79.15 279.10,81.90 261.60,81.90" fill="#7e7e7e" stroke="#1c1c1c" stroke-width="0.75" stroke-linejoin="round"/><circle cx="270.4" cy="98.25" r="4.6" fill="url(#sg)" stroke="#1d4d24" stroke-width="0.9"/>
</svg>
</body></html>
